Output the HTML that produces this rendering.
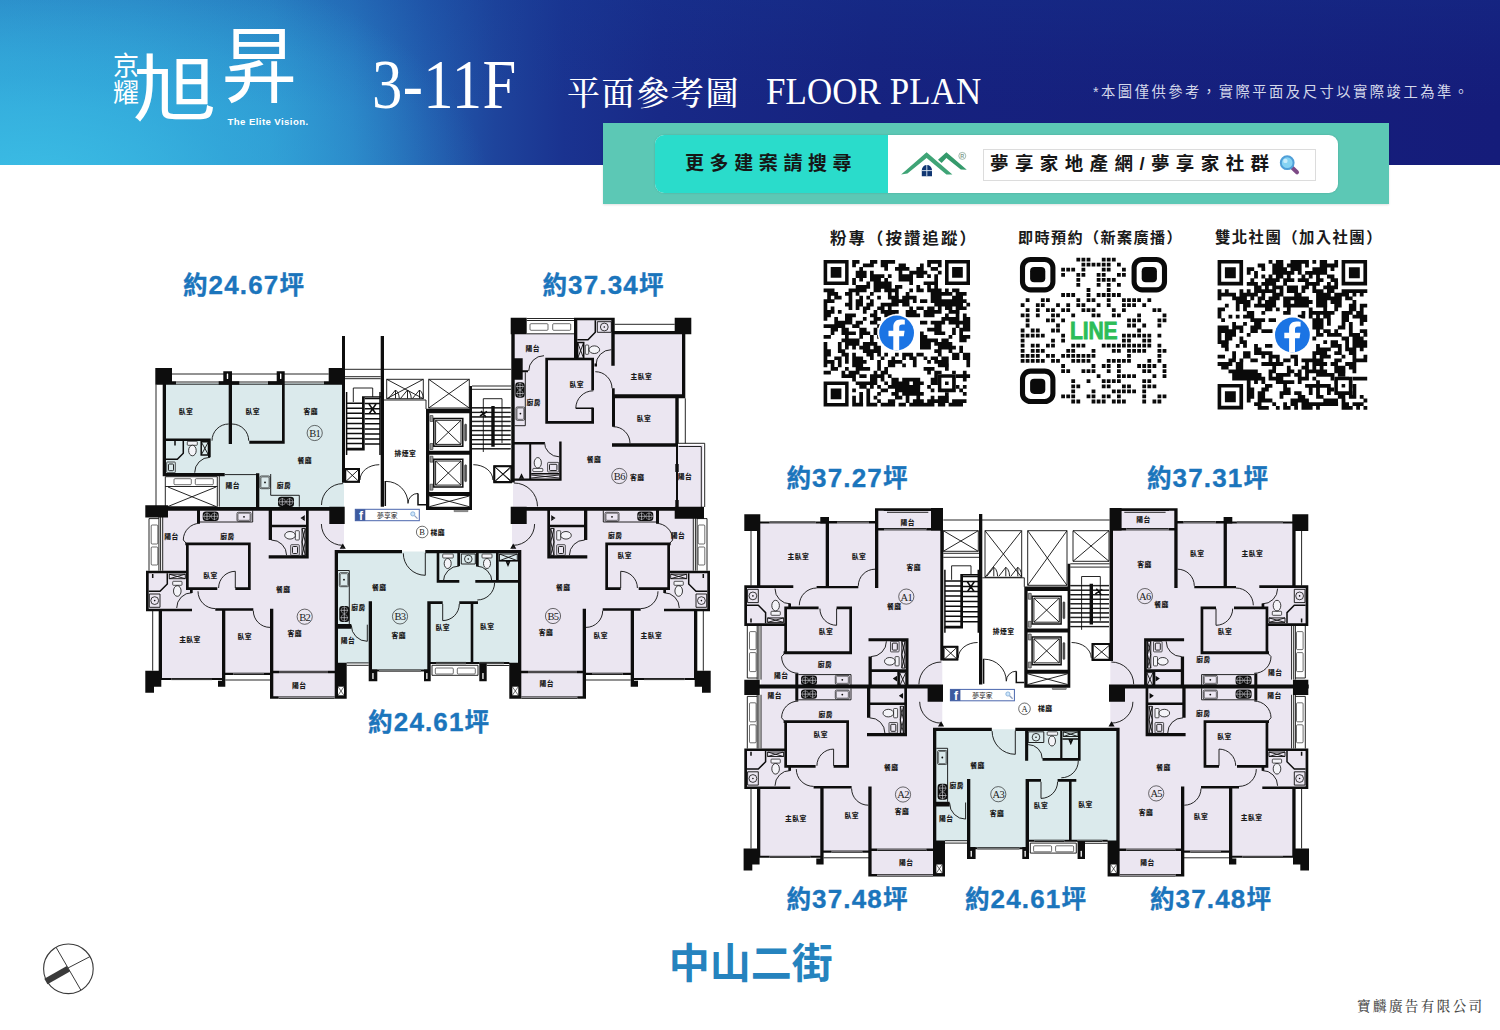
<!DOCTYPE html>
<html lang="zh-Hant"><head><meta charset="utf-8"><title>京耀旭昇 3-11F 平面參考圖</title>
<style>
html,body{margin:0;padding:0;background:#fff}
body{width:1500px;height:1030px;position:relative;overflow:hidden;font-family:"Liberation Sans","Noto Sans CJK TC",sans-serif}
.hdr{position:absolute;left:0;top:0;width:1500px;height:164.6px;background:
 radial-gradient(ellipse 460px 250px at 30px 190px,rgba(62,196,232,.85) 0%,rgba(54,180,224,.55) 45%,rgba(44,150,210,0) 100%),
 linear-gradient(180deg,rgba(22,60,150,.26) 0%,rgba(22,60,150,.09) 35%,rgba(22,60,150,0) 65%),
 linear-gradient(90deg,#30a0d6 0%,#2f9cd4 9%,#2c91ce 18%,#287bc2 23.5%,#225cae 28.5%,#1e449c 33%,#1a3390 37.5%,#182987 44%,#16227f 58%,#151c7a 100%)}
.abs{position:absolute;white-space:nowrap}
.serif{font-family:"Liberation Serif","Noto Serif CJK TC",serif}
.w{color:#fff}
.area b{font-size:26px}
.area{-webkit-text-stroke:.35px #1b75bc;position:absolute;white-space:nowrap;font-weight:700;font-size:24.5px;color:#1b75bc;letter-spacing:1.15px;transform:translateX(-50%);line-height:24px}
.qrl{position:absolute;white-space:nowrap;font-weight:700;font-size:15px;color:#1a1a1a;transform:translateX(-50%);line-height:18px}
svg{position:absolute;left:0;top:0}
svg text{font-family:"Liberation Sans","Noto Sans CJK TC",sans-serif}
.rl{font-size:6.8px;font-weight:900;fill:#1c1c1c;text-anchor:middle;letter-spacing:.45px}
.ul{font-size:10.5px;fill:#222;text-anchor:middle;font-family:"Liberation Serif",serif;letter-spacing:-.6px}
.cl{font-size:8.5px;fill:#222;text-anchor:middle;font-family:"Liberation Serif",serif}
.fbf{font-size:12px;font-weight:700;fill:#fff;text-anchor:middle}
.fbt{font-size:6.8px;fill:#222;text-anchor:middle}
.line{font-size:23.2px;font-weight:700;fill:#2cbd58;stroke:#2cbd58;stroke-width:.8px;text-anchor:middle;letter-spacing:-.2px}
</style></head><body>
<div class="hdr"></div>
<!-- logo -->
<div class="abs w" style="left:113px;top:52.5px;font-size:26px;line-height:27.6px;width:27px;white-space:normal;font-weight:400;font-family:'Liberation Sans','Noto Sans CJK TC',sans-serif">京耀</div>
<div id="xu" class="abs w" style="left:133px;top:42.5px;font-size:76px;line-height:100px;font-weight:400;font-family:'Liberation Sans','Noto Sans CJK TC',sans-serif;transform:scale(1.1,.95);transform-origin:0 0">旭</div>
<div id="sheng" class="abs w" style="left:221.5px;top:12.5px;font-size:76px;line-height:100px;font-weight:400;font-family:'Liberation Sans','Noto Sans CJK TC',sans-serif;transform:scale(.98,1.09);transform-origin:0 0">昇</div>
<div class="abs w" style="left:227.5px;top:116px;font-size:9.6px;line-height:12px;font-weight:700;letter-spacing:.42px">The Elite Vision.</div>
<div class="abs w serif" style="left:372px;top:45.5px;font-size:70.5px;line-height:76px;letter-spacing:.5px;transform:scaleX(.86);transform-origin:0 0">3-11F</div>
<div class="abs w serif" style="left:567px;top:71.5px;font-size:33px;line-height:44px;letter-spacing:1.6px;font-weight:500">平面參考圖</div>
<div class="abs w serif" style="left:765.5px;top:69px;font-size:37.7px;line-height:44px;letter-spacing:.1px;transform:scaleX(.927);transform-origin:0 0">FLOOR PLAN</div>
<div class="abs" style="left:1093px;top:82px;font-size:14.3px;line-height:20px;letter-spacing:2.5px;color:#d3d7ea">*本圖僅供參考，實際平面及尺寸以實際竣工為準。</div>
<!-- banner -->
<div class="abs" style="left:603px;top:123px;width:785.6px;height:81.3px;background:#5cc8b5;box-shadow:0 1px 2px rgba(0,0,0,.12)"></div>
<div class="abs" style="left:655px;top:135px;width:683.4px;height:57.8px;border-radius:9px;background:#fff;overflow:hidden;box-shadow:0 0 2px rgba(0,0,0,.18)"><div style="width:233px;height:58px;background:#2adccb"></div></div>
<div class="abs" style="left:685px;top:152px;font-size:19px;line-height:24px;font-weight:700;letter-spacing:5.6px;color:#161616">更多建案請搜尋</div>
<div class="abs" style="left:983px;top:149px;width:331px;height:30px;border:1px solid #dcdcdc;background:#fff"></div>
<div class="abs" style="left:990px;top:152px;font-size:18.5px;line-height:24px;font-weight:700;letter-spacing:6.4px;color:#161616">夢享家地產網/夢享家社群</div>
<!-- QR labels -->
<div class="qrl" style="left:904px;top:228.500px;font-size:16.4px;letter-spacing:2.1px">粉專（按讚追蹤）</div>
<div class="qrl" style="left:1100.5px;top:228.500px;font-size:15.1px;letter-spacing:1.4px">即時預約（新案廣播）</div>
<div class="qrl" style="left:1299px;top:228.500px;font-size:15.4px;letter-spacing:1.4px">雙北社團（加入社團）</div>
<!-- area labels -->
<div class="area" style="left:244px;top:273.4px">約<b>24.67</b>坪</div>
<div class="area" style="left:603.5px;top:273.4px">約<b>37.34</b>坪</div>
<div class="area" style="left:429.2px;top:709.5px">約<b>24.61</b>坪</div>
<div class="area" style="left:847.5px;top:465.5px">約<b>37.27</b>坪</div>
<div class="area" style="left:1208px;top:465.5px">約<b>37.31</b>坪</div>
<div class="area" style="left:847.5px;top:886.5px">約<b>37.48</b>坪</div>
<div class="area" style="left:1026px;top:886.5px">約<b>24.61</b>坪</div>
<div class="area" style="left:1211px;top:886.5px">約<b>37.48</b>坪</div>
<div class="abs" style="left:750.7px;top:940.2px;transform:translateX(-50%);font-size:41px;line-height:48px;font-weight:700;color:#2583be;letter-spacing:0">中山二街</div>
<div class="abs serif" style="left:1357px;top:997.6px;font-size:13.6px;line-height:18px;color:#4a4a4a;letter-spacing:2.35px;font-weight:500">寶麟廣告有限公司</div>
<svg width="1500" height="1030" viewBox="0 0 1500 1030">
<!-- banner logo + magnifier -->
<path d="M901.100 174.500L926.600 152.300L952.400 174.500L946.400 174.500L926.600 158L907.400 173.600Z" fill="#3fa476"/>
<path d="M938 159.800L946.400 152.300L966.800 169.700L960.800 169.400L946.400 158L941.600 163.100Z" fill="#359a6c"/>
<path d="M921.800 176.300V170a5.100 5.100 0 0 1 10.200 0V176.300Z" fill="#103672"/>
<path d="M926.800 165v11.300M921.800 170.600h10.200" stroke="#dfeaf5" stroke-width=".9" fill="none"/>
<circle cx="962.300" cy="155.900" r="3.500" stroke="#7d9c8d" stroke-width=".7" fill="none"/>
<text x="962.300" y="157.900" style="font-size:5.400px;font-weight:700;fill:#7d9c8d;text-anchor:middle">R</text>
<path d="M1292.300 167.800l4.700 4.500" stroke="#7d4a86" stroke-width="4" stroke-linecap="round"/>
<circle cx="1287.200" cy="162.700" r="6.400" fill="#86d3f3" stroke="#4f9fd8" stroke-width="2"/>
<circle cx="1285.400" cy="160.900" r="2.200" fill="#c9ecfb"/>
<!-- compass -->
<g stroke="#3a3a3a" fill="none">
<circle cx="68.400" cy="968.800" r="24.800" stroke-width="1.100"/>
<path d="M56 947.200L80.800 990M45.600 979.600L89.600 956.800" stroke-width="1"/>
<path d="M45.900 981.500L68.400 968.800" stroke-width="6.400"/>
</g>
<path d="M852.2 260h7.3v3.7h-7.3zM870 260h7.3v3.7h-7.3zM880.7 260h14.4v3.7h-14.4zM927.2 260h14.4v3.7h-14.4zM852.2 263.6h3.7v3.7h-3.7zM862.9 263.6h10.9v3.7h-10.9zM880.7 263.6h7.3v3.7h-7.3zM898.6 263.6h7.3v3.7h-7.3zM920 263.6h3.7v3.7h-3.7zM927.2 263.6h3.7v3.7h-3.7zM937.9 263.6h3.7v3.7h-3.7zM859.3 267.1h3.7v3.7h-3.7zM884.3 267.1h3.7v3.7h-3.7zM895 267.1h14.4v3.7h-14.4zM916.4 267.1h7.3v3.7h-7.3zM930.7 267.1h7.3v3.7h-7.3zM855.7 270.7h10.9v3.7h-10.9zM870 270.7h3.7v3.7h-3.7zM898.6 270.7h3.7v3.7h-3.7zM909.3 270.7h18v3.7h-18zM937.9 270.7h3.7v3.7h-3.7zM855.7 274.3h10.9v3.7h-10.9zM870 274.3h14.4v3.7h-14.4zM887.9 274.3h3.7v3.7h-3.7zM898.6 274.3h14.4v3.7h-14.4zM916.4 274.3h7.3v3.7h-7.3zM927.2 274.3h3.7v3.7h-3.7zM934.3 274.3h3.7v3.7h-3.7zM852.2 277.9h3.7v3.7h-3.7zM859.3 277.9h3.7v3.7h-3.7zM870 277.9h10.9v3.7h-10.9zM884.3 277.9h3.7v3.7h-3.7zM898.6 277.9h14.4v3.7h-14.4zM934.3 277.9h3.7v3.7h-3.7zM852.2 281.4h3.7v3.7h-3.7zM866.4 281.4h3.7v3.7h-3.7zM873.6 281.4h18v3.7h-18zM909.3 281.4h3.7v3.7h-3.7zM923.6 281.4h14.4v3.7h-14.4zM855.7 285h14.4v3.7h-14.4zM873.6 285h18v3.7h-18zM895 285h7.3v3.7h-7.3zM916.4 285h3.7v3.7h-3.7zM927.2 285h3.7v3.7h-3.7zM934.3 285h3.7v3.7h-3.7zM823.6 288.6h10.9v3.7h-10.9zM848.6 288.6h18v3.7h-18zM873.6 288.6h7.3v3.7h-7.3zM884.3 288.6h14.4v3.7h-14.4zM909.3 288.6h3.7v3.7h-3.7zM916.4 288.6h7.3v3.7h-7.3zM927.2 288.6h14.4v3.7h-14.4zM945 288.6h3.7v3.7h-3.7zM952.1 288.6h7.3v3.7h-7.3zM827.2 292.1h10.9v3.7h-10.9zM845 292.1h7.3v3.7h-7.3zM855.7 292.1h3.7v3.7h-3.7zM870 292.1h3.7v3.7h-3.7zM887.9 292.1h3.7v3.7h-3.7zM895 292.1h3.7v3.7h-3.7zM905.7 292.1h3.7v3.7h-3.7zM930.7 292.1h21.6v3.7h-21.6zM955.7 292.1h10.9v3.7h-10.9zM827.2 295.7h3.7v3.7h-3.7zM834.3 295.7h7.3v3.7h-7.3zM848.6 295.7h3.7v3.7h-3.7zM859.3 295.7h3.7v3.7h-3.7zM866.4 295.7h3.7v3.7h-3.7zM877.2 295.7h3.7v3.7h-3.7zM887.9 295.7h10.9v3.7h-10.9zM902.2 295.7h14.4v3.7h-14.4zM930.7 295.7h10.9v3.7h-10.9zM952.1 295.7h10.9v3.7h-10.9zM823.6 299.3h10.9v3.7h-10.9zM848.6 299.3h3.7v3.7h-3.7zM855.7 299.3h7.3v3.7h-7.3zM870 299.3h3.7v3.7h-3.7zM891.4 299.3h18v3.7h-18zM912.9 299.3h3.7v3.7h-3.7zM920 299.3h7.3v3.7h-7.3zM930.7 299.3h35.9v3.7h-35.9zM823.6 302.8h3.7v3.7h-3.7zM845 302.8h7.3v3.7h-7.3zM855.7 302.8h7.3v3.7h-7.3zM866.4 302.8h7.3v3.7h-7.3zM880.7 302.8h18v3.7h-18zM902.2 302.8h7.3v3.7h-7.3zM934.3 302.8h28.7v3.7h-28.7zM966.4 302.8h3.7v3.7h-3.7zM823.6 306.4h3.7v3.7h-3.7zM830.7 306.4h3.7v3.7h-3.7zM848.6 306.4h3.7v3.7h-3.7zM855.7 306.4h3.7v3.7h-3.7zM862.9 306.4h7.3v3.7h-7.3zM877.2 306.4h7.3v3.7h-7.3zM887.9 306.4h3.7v3.7h-3.7zM909.3 306.4h3.7v3.7h-3.7zM916.4 306.4h7.3v3.7h-7.3zM927.2 306.4h7.3v3.7h-7.3zM937.9 306.4h3.7v3.7h-3.7zM945 306.4h7.3v3.7h-7.3zM955.7 306.4h10.9v3.7h-10.9zM823.6 310h10.9v3.7h-10.9zM837.9 310h3.7v3.7h-3.7zM862.9 310h3.7v3.7h-3.7zM873.6 310h3.7v3.7h-3.7zM880.7 310h18v3.7h-18zM905.7 310h10.9v3.7h-10.9zM923.6 310h18v3.7h-18zM948.6 310h10.9v3.7h-10.9zM823.6 313.6h7.3v3.7h-7.3zM845 313.6h10.9v3.7h-10.9zM870 313.6h7.3v3.7h-7.3zM884.3 313.6h10.9v3.7h-10.9zM905.7 313.6h14.4v3.7h-14.4zM923.6 313.6h10.9v3.7h-10.9zM945 313.6h3.7v3.7h-3.7zM955.7 313.6h3.7v3.7h-3.7zM962.9 313.6h3.7v3.7h-3.7zM823.6 317.1h3.7v3.7h-3.7zM834.3 317.1h3.7v3.7h-3.7zM845 317.1h7.3v3.7h-7.3zM862.9 317.1h3.7v3.7h-3.7zM873.6 317.1h7.3v3.7h-7.3zM941.4 317.1h18v3.7h-18zM962.9 317.1h7.3v3.7h-7.3zM834.3 320.7h18v3.7h-18zM855.7 320.7h7.3v3.7h-7.3zM870 320.7h7.3v3.7h-7.3zM920 320.7h7.3v3.7h-7.3zM930.7 320.7h14.4v3.7h-14.4zM948.6 320.7h21.6v3.7h-21.6zM823.6 324.3h21.6v3.7h-21.6zM852.2 324.3h7.3v3.7h-7.3zM877.2 324.3h3.7v3.7h-3.7zM934.3 324.3h7.3v3.7h-7.3zM955.7 324.3h3.7v3.7h-3.7zM962.9 324.3h7.3v3.7h-7.3zM830.7 327.8h7.3v3.7h-7.3zM841.5 327.8h7.3v3.7h-7.3zM859.3 327.8h7.3v3.7h-7.3zM873.6 327.8h3.7v3.7h-3.7zM927.2 327.8h14.4v3.7h-14.4zM952.1 327.8h3.7v3.7h-3.7zM959.3 327.8h10.9v3.7h-10.9zM830.7 331.4h3.7v3.7h-3.7zM841.5 331.4h14.4v3.7h-14.4zM859.3 331.4h10.9v3.7h-10.9zM873.6 331.4h3.7v3.7h-3.7zM920 331.4h3.7v3.7h-3.7zM934.3 331.4h10.9v3.7h-10.9zM952.1 331.4h3.7v3.7h-3.7zM959.3 331.4h3.7v3.7h-3.7zM823.6 335h7.3v3.7h-7.3zM845 335h3.7v3.7h-3.7zM859.3 335h3.7v3.7h-3.7zM870 335h3.7v3.7h-3.7zM877.2 335h3.7v3.7h-3.7zM920 335h7.3v3.7h-7.3zM948.6 335h3.7v3.7h-3.7zM959.3 335h10.9v3.7h-10.9zM841.5 338.6h18v3.7h-18zM870 338.6h3.7v3.7h-3.7zM920 338.6h18v3.7h-18zM941.4 338.6h7.3v3.7h-7.3zM959.3 338.6h7.3v3.7h-7.3zM823.6 342.1h3.7v3.7h-3.7zM837.9 342.1h3.7v3.7h-3.7zM845 342.1h14.4v3.7h-14.4zM862.9 342.1h14.4v3.7h-14.4zM920 342.1h10.9v3.7h-10.9zM934.3 342.1h18v3.7h-18zM823.6 345.7h3.7v3.7h-3.7zM837.9 345.7h3.7v3.7h-3.7zM845 345.7h3.7v3.7h-3.7zM852.2 345.7h3.7v3.7h-3.7zM859.3 345.7h10.9v3.7h-10.9zM873.6 345.7h7.3v3.7h-7.3zM920 345.7h10.9v3.7h-10.9zM937.9 345.7h18v3.7h-18zM959.3 345.7h3.7v3.7h-3.7zM823.6 349.3h7.3v3.7h-7.3zM837.9 349.3h7.3v3.7h-7.3zM862.9 349.3h18v3.7h-18zM934.3 349.3h7.3v3.7h-7.3zM948.6 349.3h3.7v3.7h-3.7zM959.3 349.3h3.7v3.7h-3.7zM823.6 352.8h7.3v3.7h-7.3zM841.5 352.8h7.3v3.7h-7.3zM852.2 352.8h3.7v3.7h-3.7zM866.4 352.8h7.3v3.7h-7.3zM877.2 352.8h3.7v3.7h-3.7zM884.3 352.8h3.7v3.7h-3.7zM895 352.8h3.7v3.7h-3.7zM902.2 352.8h10.9v3.7h-10.9zM916.4 352.8h7.3v3.7h-7.3zM937.9 352.8h3.7v3.7h-3.7zM952.1 352.8h7.3v3.7h-7.3zM962.9 352.8h7.3v3.7h-7.3zM823.6 356.4h3.7v3.7h-3.7zM834.3 356.4h7.3v3.7h-7.3zM845 356.4h3.7v3.7h-3.7zM852.2 356.4h10.9v3.7h-10.9zM870 356.4h3.7v3.7h-3.7zM880.7 356.4h3.7v3.7h-3.7zM891.4 356.4h3.7v3.7h-3.7zM902.2 356.4h3.7v3.7h-3.7zM909.3 356.4h7.3v3.7h-7.3zM923.6 356.4h3.7v3.7h-3.7zM930.7 356.4h7.3v3.7h-7.3zM941.4 356.4h7.3v3.7h-7.3zM952.1 356.4h7.3v3.7h-7.3zM962.9 356.4h7.3v3.7h-7.3zM823.6 360h10.9v3.7h-10.9zM837.9 360h3.7v3.7h-3.7zM845 360h3.7v3.7h-3.7zM852.2 360h14.4v3.7h-14.4zM877.2 360h3.7v3.7h-3.7zM887.9 360h14.4v3.7h-14.4zM912.9 360h3.7v3.7h-3.7zM927.2 360h3.7v3.7h-3.7zM934.3 360h14.4v3.7h-14.4zM966.4 360h3.7v3.7h-3.7zM823.6 363.6h3.7v3.7h-3.7zM830.7 363.6h3.7v3.7h-3.7zM837.9 363.6h3.7v3.7h-3.7zM852.2 363.6h10.9v3.7h-10.9zM877.2 363.6h3.7v3.7h-3.7zM887.9 363.6h7.3v3.7h-7.3zM902.2 363.6h3.7v3.7h-3.7zM912.9 363.6h3.7v3.7h-3.7zM937.9 363.6h10.9v3.7h-10.9zM966.4 363.6h3.7v3.7h-3.7zM830.7 367.1h7.3v3.7h-7.3zM845 367.1h3.7v3.7h-3.7zM855.7 367.1h14.4v3.7h-14.4zM877.2 367.1h3.7v3.7h-3.7zM884.3 367.1h3.7v3.7h-3.7zM923.6 367.1h10.9v3.7h-10.9zM945 367.1h3.7v3.7h-3.7zM823.6 370.7h7.3v3.7h-7.3zM841.5 370.7h3.7v3.7h-3.7zM848.6 370.7h10.9v3.7h-10.9zM873.6 370.7h3.7v3.7h-3.7zM880.7 370.7h7.3v3.7h-7.3zM927.2 370.7h3.7v3.7h-3.7zM934.3 370.7h7.3v3.7h-7.3zM952.1 370.7h3.7v3.7h-3.7zM962.9 370.7h3.7v3.7h-3.7zM841.5 374.3h14.4v3.7h-14.4zM859.3 374.3h7.3v3.7h-7.3zM870 374.3h14.4v3.7h-14.4zM887.9 374.3h3.7v3.7h-3.7zM934.3 374.3h3.7v3.7h-3.7zM955.7 374.3h14.4v3.7h-14.4zM852.2 377.8h3.7v3.7h-3.7zM870 377.8h7.3v3.7h-7.3zM880.7 377.8h3.7v3.7h-3.7zM891.4 377.8h7.3v3.7h-7.3zM902.2 377.8h18v3.7h-18zM930.7 377.8h7.3v3.7h-7.3zM941.4 377.8h3.7v3.7h-3.7zM962.9 377.8h3.7v3.7h-3.7zM855.7 381.4h21.6v3.7h-21.6zM884.3 381.4h3.7v3.7h-3.7zM891.4 381.4h18v3.7h-18zM912.9 381.4h10.9v3.7h-10.9zM930.7 381.4h7.3v3.7h-7.3zM859.3 385h7.3v3.7h-7.3zM870 385h3.7v3.7h-3.7zM877.2 385h3.7v3.7h-3.7zM887.9 385h32.3v3.7h-32.3zM927.2 385h3.7v3.7h-3.7zM941.4 385h10.9v3.7h-10.9zM955.7 385h3.7v3.7h-3.7zM962.9 385h3.7v3.7h-3.7zM852.2 388.5h3.7v3.7h-3.7zM866.4 388.5h3.7v3.7h-3.7zM880.7 388.5h7.3v3.7h-7.3zM895 388.5h25.1v3.7h-25.1zM930.7 388.5h3.7v3.7h-3.7zM959.3 388.5h3.7v3.7h-3.7zM859.3 392.1h3.7v3.7h-3.7zM866.4 392.1h3.7v3.7h-3.7zM877.2 392.1h3.7v3.7h-3.7zM891.4 392.1h7.3v3.7h-7.3zM902.2 392.1h21.6v3.7h-21.6zM945 392.1h3.7v3.7h-3.7zM962.9 392.1h3.7v3.7h-3.7zM852.2 395.7h3.7v3.7h-3.7zM859.3 395.7h3.7v3.7h-3.7zM866.4 395.7h3.7v3.7h-3.7zM873.6 395.7h3.7v3.7h-3.7zM895 395.7h7.3v3.7h-7.3zM905.7 395.7h3.7v3.7h-3.7zM916.4 395.7h3.7v3.7h-3.7zM930.7 395.7h3.7v3.7h-3.7zM937.9 395.7h10.9v3.7h-10.9zM852.2 399.3h3.7v3.7h-3.7zM859.3 399.3h3.7v3.7h-3.7zM866.4 399.3h3.7v3.7h-3.7zM877.2 399.3h3.7v3.7h-3.7zM887.9 399.3h7.3v3.7h-7.3zM905.7 399.3h3.7v3.7h-3.7zM912.9 399.3h10.9v3.7h-10.9zM927.2 399.3h21.6v3.7h-21.6zM952.1 399.3h14.4v3.7h-14.4zM852.2 402.8h10.9v3.7h-10.9zM866.4 402.8h10.9v3.7h-10.9zM880.7 402.8h14.4v3.7h-14.4zM898.6 402.8h7.3v3.7h-7.3zM909.3 402.8h25.1v3.7h-25.1zM937.9 402.8h7.3v3.7h-7.3zM948.6 402.8h14.4v3.7h-14.4zM823.6 260h25v25h-25zM827.2 263.6v17.9h17.9v-17.9zM830.7 267.1h10.7v10.7h-10.7zM945 260h25v25h-25zM948.6 263.6v17.9h17.9v-17.9zM952.1 267.1h10.7v10.7h-10.7zM823.6 381.4h25v25h-25zM827.2 385v17.9h17.9v-17.9zM830.7 388.5h10.7v10.7h-10.7z" fill="#0a0a0a"/>
<rect x="937.9" y="374.3" width="17.9" height="17.9" fill="#fff"/>
<path d="M937.9 374.3h17.9v17.9h-17.9zM941.4 377.8v10.7h10.7v-10.7zM945 381.4h3.6v3.6h-3.6z" fill="#0a0a0a"/>
<circle cx="896.6" cy="333" r="18.9" fill="#fff"/><circle cx="896.6" cy="333" r="17.4" fill="#1b74e4"/><path transform="translate(896.6 333) scale(1)" d="M2.6 17.5V3.2h4.6l.8-5.4H2.6v-3.4c0-1.6.8-2.9 3-2.9h2.6v-4.7c-1-.2-2.6-.4-4.2-.4-4.5 0-7.3 2.7-7.3 7.5v3.9h-4.8v5.4h4.8v14.3z" fill="#fff"/>
<path d="M1076.4 257.7h3.8v3.8h-3.8zM1081.5 257.7h3.8v3.8h-3.8zM1086.6 257.7h3.8v3.8h-3.8zM1101.8 257.7h3.8v3.8h-3.8zM1106.8 257.7h3.8v3.8h-3.8zM1111.9 257.7h3.8v3.8h-3.8zM1081.5 262.7h3.8v3.8h-3.8zM1086.6 262.7h3.8v3.8h-3.8zM1091.6 262.7h3.8v3.8h-3.8zM1096.7 262.7h3.8v3.8h-3.8zM1101.8 262.7h3.8v3.8h-3.8zM1106.8 262.7h3.8v3.8h-3.8zM1117 262.7h3.8v3.8h-3.8zM1061.2 267.8h3.8v3.8h-3.8zM1066.3 267.8h3.8v3.8h-3.8zM1071.3 267.8h3.8v3.8h-3.8zM1081.5 267.8h3.8v3.8h-3.8zM1101.8 267.8h3.8v3.8h-3.8zM1106.8 267.8h3.8v3.8h-3.8zM1122 267.8h3.8v3.8h-3.8zM1061.2 272.9h3.8v3.8h-3.8zM1076.4 272.9h3.8v3.8h-3.8zM1081.5 272.9h3.8v3.8h-3.8zM1096.7 272.9h3.8v3.8h-3.8zM1101.8 272.9h3.8v3.8h-3.8zM1117 272.9h3.8v3.8h-3.8zM1122 272.9h3.8v3.8h-3.8zM1076.4 277.9h3.8v3.8h-3.8zM1096.7 277.9h3.8v3.8h-3.8zM1101.8 277.9h3.8v3.8h-3.8zM1106.8 277.9h3.8v3.8h-3.8zM1111.9 277.9h3.8v3.8h-3.8zM1076.4 283h3.8v3.8h-3.8zM1096.7 283h3.8v3.8h-3.8zM1106.8 283h3.8v3.8h-3.8zM1117 283h3.8v3.8h-3.8zM1086.6 288.1h3.8v3.8h-3.8zM1106.8 288.1h3.8v3.8h-3.8zM1061.2 293.1h3.8v3.8h-3.8zM1066.3 293.1h3.8v3.8h-3.8zM1071.3 293.1h3.8v3.8h-3.8zM1086.6 293.1h3.8v3.8h-3.8zM1096.7 293.1h3.8v3.8h-3.8zM1101.8 293.1h3.8v3.8h-3.8zM1106.8 293.1h3.8v3.8h-3.8zM1111.9 293.1h3.8v3.8h-3.8zM1117 293.1h3.8v3.8h-3.8zM1025.7 298.2h3.8v3.8h-3.8zM1040.9 298.2h3.8v3.8h-3.8zM1046 298.2h3.8v3.8h-3.8zM1076.4 298.2h3.8v3.8h-3.8zM1086.6 298.2h3.8v3.8h-3.8zM1091.6 298.2h3.8v3.8h-3.8zM1106.8 298.2h3.8v3.8h-3.8zM1122 298.2h3.8v3.8h-3.8zM1127.1 298.2h3.8v3.8h-3.8zM1132.2 298.2h3.8v3.8h-3.8zM1137.2 298.2h3.8v3.8h-3.8zM1147.4 298.2h3.8v3.8h-3.8zM1020.7 303.3h3.8v3.8h-3.8zM1035.9 303.3h3.8v3.8h-3.8zM1040.9 303.3h3.8v3.8h-3.8zM1056.1 303.3h3.8v3.8h-3.8zM1066.3 303.3h3.8v3.8h-3.8zM1076.4 303.3h3.8v3.8h-3.8zM1081.5 303.3h3.8v3.8h-3.8zM1096.7 303.3h3.8v3.8h-3.8zM1106.8 303.3h3.8v3.8h-3.8zM1122 303.3h3.8v3.8h-3.8zM1127.1 303.3h3.8v3.8h-3.8zM1132.2 303.3h3.8v3.8h-3.8zM1142.3 303.3h3.8v3.8h-3.8zM1025.7 308.3h3.8v3.8h-3.8zM1035.9 308.3h3.8v3.8h-3.8zM1046 308.3h3.8v3.8h-3.8zM1051.1 308.3h3.8v3.8h-3.8zM1061.2 308.3h3.8v3.8h-3.8zM1066.3 308.3h3.8v3.8h-3.8zM1081.5 308.3h3.8v3.8h-3.8zM1086.6 308.3h3.8v3.8h-3.8zM1091.6 308.3h3.8v3.8h-3.8zM1111.9 308.3h3.8v3.8h-3.8zM1122 308.3h3.8v3.8h-3.8zM1152.5 308.3h3.8v3.8h-3.8zM1157.5 308.3h3.8v3.8h-3.8zM1020.7 313.4h3.8v3.8h-3.8zM1025.7 313.4h3.8v3.8h-3.8zM1035.9 313.4h3.8v3.8h-3.8zM1051.1 313.4h3.8v3.8h-3.8zM1056.1 313.4h3.8v3.8h-3.8zM1071.3 313.4h3.8v3.8h-3.8zM1091.6 313.4h3.8v3.8h-3.8zM1096.7 313.4h3.8v3.8h-3.8zM1111.9 313.4h3.8v3.8h-3.8zM1117 313.4h3.8v3.8h-3.8zM1137.2 313.4h3.8v3.8h-3.8zM1162.6 313.4h3.8v3.8h-3.8zM1025.7 318.5h3.8v3.8h-3.8zM1046 318.5h3.8v3.8h-3.8zM1051.1 318.5h3.8v3.8h-3.8zM1061.2 318.5h3.8v3.8h-3.8zM1127.1 318.5h3.8v3.8h-3.8zM1132.2 318.5h3.8v3.8h-3.8zM1137.2 318.5h3.8v3.8h-3.8zM1157.5 318.5h3.8v3.8h-3.8zM1162.6 318.5h3.8v3.8h-3.8zM1025.7 323.6h3.8v3.8h-3.8zM1056.1 323.6h3.8v3.8h-3.8zM1127.1 323.6h3.8v3.8h-3.8zM1132.2 323.6h3.8v3.8h-3.8zM1142.3 323.6h3.8v3.8h-3.8zM1157.5 323.6h3.8v3.8h-3.8zM1020.7 328.6h3.8v3.8h-3.8zM1030.8 328.6h3.8v3.8h-3.8zM1035.9 328.6h3.8v3.8h-3.8zM1051.1 328.6h3.8v3.8h-3.8zM1056.1 328.6h3.8v3.8h-3.8zM1137.2 328.6h3.8v3.8h-3.8zM1020.7 333.7h3.8v3.8h-3.8zM1025.7 333.7h3.8v3.8h-3.8zM1030.8 333.7h3.8v3.8h-3.8zM1035.9 333.7h3.8v3.8h-3.8zM1040.9 333.7h3.8v3.8h-3.8zM1061.2 333.7h3.8v3.8h-3.8zM1122 333.7h3.8v3.8h-3.8zM1127.1 333.7h3.8v3.8h-3.8zM1132.2 333.7h3.8v3.8h-3.8zM1137.2 333.7h3.8v3.8h-3.8zM1142.3 333.7h3.8v3.8h-3.8zM1147.4 333.7h3.8v3.8h-3.8zM1157.5 333.7h3.8v3.8h-3.8zM1020.7 338.8h3.8v3.8h-3.8zM1051.1 338.8h3.8v3.8h-3.8zM1061.2 338.8h3.8v3.8h-3.8zM1122 338.8h3.8v3.8h-3.8zM1127.1 338.8h3.8v3.8h-3.8zM1142.3 338.8h3.8v3.8h-3.8zM1147.4 338.8h3.8v3.8h-3.8zM1020.7 343.8h3.8v3.8h-3.8zM1030.8 343.8h3.8v3.8h-3.8zM1035.9 343.8h3.8v3.8h-3.8zM1046 343.8h3.8v3.8h-3.8zM1051.1 343.8h3.8v3.8h-3.8zM1071.3 343.8h3.8v3.8h-3.8zM1076.4 343.8h3.8v3.8h-3.8zM1081.5 343.8h3.8v3.8h-3.8zM1101.8 343.8h3.8v3.8h-3.8zM1106.8 343.8h3.8v3.8h-3.8zM1111.9 343.8h3.8v3.8h-3.8zM1117 343.8h3.8v3.8h-3.8zM1122 343.8h3.8v3.8h-3.8zM1127.1 343.8h3.8v3.8h-3.8zM1132.2 343.8h3.8v3.8h-3.8zM1137.2 343.8h3.8v3.8h-3.8zM1142.3 343.8h3.8v3.8h-3.8zM1147.4 343.8h3.8v3.8h-3.8zM1157.5 343.8h3.8v3.8h-3.8zM1020.7 348.9h3.8v3.8h-3.8zM1030.8 348.9h3.8v3.8h-3.8zM1035.9 348.9h3.8v3.8h-3.8zM1040.9 348.9h3.8v3.8h-3.8zM1066.3 348.9h3.8v3.8h-3.8zM1071.3 348.9h3.8v3.8h-3.8zM1091.6 348.9h3.8v3.8h-3.8zM1111.9 348.9h3.8v3.8h-3.8zM1117 348.9h3.8v3.8h-3.8zM1127.1 348.9h3.8v3.8h-3.8zM1132.2 348.9h3.8v3.8h-3.8zM1137.2 348.9h3.8v3.8h-3.8zM1142.3 348.9h3.8v3.8h-3.8zM1157.5 348.9h3.8v3.8h-3.8zM1162.6 348.9h3.8v3.8h-3.8zM1020.7 354h3.8v3.8h-3.8zM1025.7 354h3.8v3.8h-3.8zM1030.8 354h3.8v3.8h-3.8zM1035.9 354h3.8v3.8h-3.8zM1046 354h3.8v3.8h-3.8zM1051.1 354h3.8v3.8h-3.8zM1061.2 354h3.8v3.8h-3.8zM1066.3 354h3.8v3.8h-3.8zM1071.3 354h3.8v3.8h-3.8zM1076.4 354h3.8v3.8h-3.8zM1081.5 354h3.8v3.8h-3.8zM1086.6 354h3.8v3.8h-3.8zM1091.6 354h3.8v3.8h-3.8zM1127.1 354h3.8v3.8h-3.8zM1157.5 354h3.8v3.8h-3.8zM1020.7 359h3.8v3.8h-3.8zM1025.7 359h3.8v3.8h-3.8zM1030.8 359h3.8v3.8h-3.8zM1035.9 359h3.8v3.8h-3.8zM1040.9 359h3.8v3.8h-3.8zM1051.1 359h3.8v3.8h-3.8zM1056.1 359h3.8v3.8h-3.8zM1071.3 359h3.8v3.8h-3.8zM1076.4 359h3.8v3.8h-3.8zM1081.5 359h3.8v3.8h-3.8zM1086.6 359h3.8v3.8h-3.8zM1106.8 359h3.8v3.8h-3.8zM1111.9 359h3.8v3.8h-3.8zM1117 359h3.8v3.8h-3.8zM1122 359h3.8v3.8h-3.8zM1127.1 359h3.8v3.8h-3.8zM1147.4 359h3.8v3.8h-3.8zM1157.5 359h3.8v3.8h-3.8zM1061.2 364.1h3.8v3.8h-3.8zM1091.6 364.1h3.8v3.8h-3.8zM1101.8 364.1h3.8v3.8h-3.8zM1106.8 364.1h3.8v3.8h-3.8zM1117 364.1h3.8v3.8h-3.8zM1137.2 364.1h3.8v3.8h-3.8zM1142.3 364.1h3.8v3.8h-3.8zM1147.4 364.1h3.8v3.8h-3.8zM1152.5 364.1h3.8v3.8h-3.8zM1162.6 364.1h3.8v3.8h-3.8zM1061.2 369.2h3.8v3.8h-3.8zM1066.3 369.2h3.8v3.8h-3.8zM1081.5 369.2h3.8v3.8h-3.8zM1086.6 369.2h3.8v3.8h-3.8zM1091.6 369.2h3.8v3.8h-3.8zM1106.8 369.2h3.8v3.8h-3.8zM1117 369.2h3.8v3.8h-3.8zM1142.3 369.2h3.8v3.8h-3.8zM1147.4 369.2h3.8v3.8h-3.8zM1162.6 369.2h3.8v3.8h-3.8zM1096.7 374.2h3.8v3.8h-3.8zM1117 374.2h3.8v3.8h-3.8zM1122 374.2h3.8v3.8h-3.8zM1127.1 374.2h3.8v3.8h-3.8zM1132.2 374.2h3.8v3.8h-3.8zM1152.5 374.2h3.8v3.8h-3.8zM1162.6 374.2h3.8v3.8h-3.8zM1071.3 379.3h3.8v3.8h-3.8zM1086.6 379.3h3.8v3.8h-3.8zM1101.8 379.3h3.8v3.8h-3.8zM1106.8 379.3h3.8v3.8h-3.8zM1111.9 379.3h3.8v3.8h-3.8zM1117 379.3h3.8v3.8h-3.8zM1142.3 379.3h3.8v3.8h-3.8zM1147.4 379.3h3.8v3.8h-3.8zM1071.3 384.4h3.8v3.8h-3.8zM1076.4 384.4h3.8v3.8h-3.8zM1101.8 384.4h3.8v3.8h-3.8zM1106.8 384.4h3.8v3.8h-3.8zM1122 384.4h3.8v3.8h-3.8zM1127.1 384.4h3.8v3.8h-3.8zM1142.3 384.4h3.8v3.8h-3.8zM1147.4 384.4h3.8v3.8h-3.8zM1152.5 384.4h3.8v3.8h-3.8zM1071.3 389.5h3.8v3.8h-3.8zM1091.6 389.5h3.8v3.8h-3.8zM1111.9 389.5h3.8v3.8h-3.8zM1117 389.5h3.8v3.8h-3.8zM1122 389.5h3.8v3.8h-3.8zM1127.1 389.5h3.8v3.8h-3.8zM1132.2 389.5h3.8v3.8h-3.8zM1142.3 389.5h3.8v3.8h-3.8zM1061.2 394.5h3.8v3.8h-3.8zM1066.3 394.5h3.8v3.8h-3.8zM1071.3 394.5h3.8v3.8h-3.8zM1086.6 394.5h3.8v3.8h-3.8zM1091.6 394.5h3.8v3.8h-3.8zM1101.8 394.5h3.8v3.8h-3.8zM1106.8 394.5h3.8v3.8h-3.8zM1117 394.5h3.8v3.8h-3.8zM1142.3 394.5h3.8v3.8h-3.8zM1157.5 394.5h3.8v3.8h-3.8zM1162.6 394.5h3.8v3.8h-3.8zM1071.3 399.6h3.8v3.8h-3.8zM1076.4 399.6h3.8v3.8h-3.8zM1091.6 399.6h3.8v3.8h-3.8zM1096.7 399.6h3.8v3.8h-3.8zM1101.8 399.6h3.8v3.8h-3.8zM1111.9 399.6h3.8v3.8h-3.8zM1117 399.6h3.8v3.8h-3.8zM1122 399.6h3.8v3.8h-3.8zM1142.3 399.6h3.8v3.8h-3.8zM1152.5 399.6h3.8v3.8h-3.8zM1157.5 399.6h3.8v3.8h-3.8z" fill="#0a0a0a"/>
<rect x="1022.5" y="259.5" width="30.4" height="30.4" rx="8.1" fill="none" stroke="#0a0a0a" stroke-width="5.1"/>
<rect x="1030.1" y="267.1" width="15.2" height="15.2" rx="4.1" fill="#0a0a0a"/>
<rect x="1134.1" y="259.5" width="30.4" height="30.4" rx="8.1" fill="none" stroke="#0a0a0a" stroke-width="5.1"/>
<rect x="1141.7" y="267.1" width="15.2" height="15.2" rx="4.1" fill="#0a0a0a"/>
<rect x="1022.5" y="371.1" width="30.4" height="30.4" rx="8.1" fill="none" stroke="#0a0a0a" stroke-width="5.1"/>
<rect x="1030.1" y="378.7" width="15.2" height="15.2" rx="4.1" fill="#0a0a0a"/>
<text transform="translate(1093.8 339.2) scale(.91 1)" x="0" y="0" class="line">LINE</text>
<path d="M1268.6 260h3.8v3.8h-3.8zM1275.9 260h7.4v3.8h-7.4zM1290.5 260h18.4v3.8h-18.4zM1312.4 260h3.8v3.8h-3.8zM1319.7 260h7.4v3.8h-7.4zM1334.3 260h3.8v3.8h-3.8zM1257.7 263.6h7.4v3.8h-7.4zM1272.3 263.6h11.1v3.8h-11.1zM1286.9 263.6h14.7v3.8h-14.7zM1305.1 263.6h3.8v3.8h-3.8zM1319.7 263.6h18.4v3.8h-18.4zM1246.8 267.3h7.4v3.8h-7.4zM1261.4 267.3h3.8v3.8h-3.8zM1272.3 267.3h14.7v3.8h-14.7zM1290.5 267.3h11.1v3.8h-11.1zM1312.4 267.3h14.7v3.8h-14.7zM1330.6 267.3h3.8v3.8h-3.8zM1246.8 270.9h3.8v3.8h-3.8zM1254.1 270.9h3.8v3.8h-3.8zM1272.3 270.9h22v3.8h-22zM1297.8 270.9h3.8v3.8h-3.8zM1305.1 270.9h22v3.8h-22zM1254.1 274.6h3.8v3.8h-3.8zM1261.4 274.6h3.8v3.8h-3.8zM1268.6 274.6h3.8v3.8h-3.8zM1275.9 274.6h7.4v3.8h-7.4zM1286.9 274.6h3.8v3.8h-3.8zM1301.5 274.6h3.8v3.8h-3.8zM1308.8 274.6h3.8v3.8h-3.8zM1316.1 274.6h3.8v3.8h-3.8zM1327 274.6h7.4v3.8h-7.4zM1250.4 278.2h3.8v3.8h-3.8zM1265 278.2h14.7v3.8h-14.7zM1283.2 278.2h11.1v3.8h-11.1zM1297.8 278.2h11.1v3.8h-11.1zM1316.1 278.2h7.4v3.8h-7.4zM1330.6 278.2h7.4v3.8h-7.4zM1246.8 281.9h11.1v3.8h-11.1zM1261.4 281.9h14.7v3.8h-14.7zM1283.2 281.9h3.8v3.8h-3.8zM1305.1 281.9h14.7v3.8h-14.7zM1327 281.9h3.8v3.8h-3.8zM1334.3 281.9h3.8v3.8h-3.8zM1254.1 285.5h7.4v3.8h-7.4zM1265 285.5h3.8v3.8h-3.8zM1272.3 285.5h11.1v3.8h-11.1zM1286.9 285.5h11.1v3.8h-11.1zM1301.5 285.5h7.4v3.8h-7.4zM1312.4 285.5h3.8v3.8h-3.8zM1323.3 285.5h14.7v3.8h-14.7zM1217.6 289.2h3.8v3.8h-3.8zM1224.9 289.2h3.8v3.8h-3.8zM1239.5 289.2h3.8v3.8h-3.8zM1246.8 289.2h3.8v3.8h-3.8zM1254.1 289.2h22v3.8h-22zM1279.6 289.2h3.8v3.8h-3.8zM1286.9 289.2h11.1v3.8h-11.1zM1301.5 289.2h3.8v3.8h-3.8zM1312.4 289.2h11.1v3.8h-11.1zM1327 289.2h7.4v3.8h-7.4zM1341.6 289.2h25.7v3.8h-25.7zM1217.6 292.8h18.4v3.8h-18.4zM1239.5 292.8h18.4v3.8h-18.4zM1261.4 292.8h3.8v3.8h-3.8zM1272.3 292.8h11.1v3.8h-11.1zM1294.2 292.8h7.4v3.8h-7.4zM1316.1 292.8h14.7v3.8h-14.7zM1334.3 292.8h14.7v3.8h-14.7zM1352.5 292.8h3.8v3.8h-3.8zM1359.8 292.8h3.8v3.8h-3.8zM1217.6 296.5h3.8v3.8h-3.8zM1232.2 296.5h14.7v3.8h-14.7zM1250.4 296.5h3.8v3.8h-3.8zM1257.7 296.5h7.4v3.8h-7.4zM1268.6 296.5h11.1v3.8h-11.1zM1283.2 296.5h25.7v3.8h-25.7zM1316.1 296.5h25.7v3.8h-25.7zM1345.2 296.5h7.4v3.8h-7.4zM1235.8 300.1h14.7v3.8h-14.7zM1257.7 300.1h3.8v3.8h-3.8zM1265 300.1h11.1v3.8h-11.1zM1283.2 300.1h7.4v3.8h-7.4zM1294.2 300.1h18.4v3.8h-18.4zM1316.1 300.1h11.1v3.8h-11.1zM1330.6 300.1h11.1v3.8h-11.1zM1352.5 300.1h3.8v3.8h-3.8zM1224.9 303.8h3.8v3.8h-3.8zM1235.8 303.8h3.8v3.8h-3.8zM1243.1 303.8h7.4v3.8h-7.4zM1254.1 303.8h22v3.8h-22zM1283.2 303.8h25.7v3.8h-25.7zM1316.1 303.8h11.1v3.8h-11.1zM1334.3 303.8h7.4v3.8h-7.4zM1348.9 303.8h7.4v3.8h-7.4zM1359.8 303.8h7.4v3.8h-7.4zM1217.6 307.4h7.4v3.8h-7.4zM1235.8 307.4h3.8v3.8h-3.8zM1243.1 307.4h3.8v3.8h-3.8zM1265 307.4h7.4v3.8h-7.4zM1275.9 307.4h3.8v3.8h-3.8zM1286.9 307.4h3.8v3.8h-3.8zM1308.8 307.4h3.8v3.8h-3.8zM1323.3 307.4h3.8v3.8h-3.8zM1334.3 307.4h3.8v3.8h-3.8zM1348.9 307.4h7.4v3.8h-7.4zM1359.8 307.4h3.8v3.8h-3.8zM1217.6 311h3.8v3.8h-3.8zM1246.8 311h7.4v3.8h-7.4zM1261.4 311h3.8v3.8h-3.8zM1283.2 311h7.4v3.8h-7.4zM1301.5 311h3.8v3.8h-3.8zM1308.8 311h25.7v3.8h-25.7zM1341.6 311h11.1v3.8h-11.1zM1356.2 311h7.4v3.8h-7.4zM1217.6 314.7h3.8v3.8h-3.8zM1228.5 314.7h3.8v3.8h-3.8zM1235.8 314.7h3.8v3.8h-3.8zM1243.1 314.7h11.1v3.8h-11.1zM1297.8 314.7h7.4v3.8h-7.4zM1308.8 314.7h3.8v3.8h-3.8zM1316.1 314.7h3.8v3.8h-3.8zM1323.3 314.7h7.4v3.8h-7.4zM1341.6 314.7h7.4v3.8h-7.4zM1352.5 314.7h14.7v3.8h-14.7zM1221.2 318.3h3.8v3.8h-3.8zM1250.4 318.3h14.7v3.8h-14.7zM1268.6 318.3h7.4v3.8h-7.4zM1312.4 318.3h11.1v3.8h-11.1zM1327 318.3h3.8v3.8h-3.8zM1341.6 318.3h7.4v3.8h-7.4zM1359.8 318.3h7.4v3.8h-7.4zM1232.2 322h3.8v3.8h-3.8zM1243.1 322h3.8v3.8h-3.8zM1254.1 322h7.4v3.8h-7.4zM1312.4 322h11.1v3.8h-11.1zM1327 322h3.8v3.8h-3.8zM1341.6 322h3.8v3.8h-3.8zM1348.9 322h3.8v3.8h-3.8zM1359.8 322h3.8v3.8h-3.8zM1217.6 325.6h11.1v3.8h-11.1zM1232.2 325.6h11.1v3.8h-11.1zM1250.4 325.6h11.1v3.8h-11.1zM1312.4 325.6h11.1v3.8h-11.1zM1337.9 325.6h7.4v3.8h-7.4zM1348.9 325.6h3.8v3.8h-3.8zM1217.6 329.3h18.4v3.8h-18.4zM1239.5 329.3h3.8v3.8h-3.8zM1250.4 329.3h7.4v3.8h-7.4zM1261.4 329.3h11.1v3.8h-11.1zM1316.1 329.3h3.8v3.8h-3.8zM1323.3 329.3h7.4v3.8h-7.4zM1334.3 329.3h3.8v3.8h-3.8zM1348.9 329.3h3.8v3.8h-3.8zM1359.8 329.3h7.4v3.8h-7.4zM1217.6 332.9h3.8v3.8h-3.8zM1224.9 332.9h11.1v3.8h-11.1zM1246.8 332.9h3.8v3.8h-3.8zM1316.1 332.9h7.4v3.8h-7.4zM1327 332.9h14.7v3.8h-14.7zM1348.9 332.9h11.1v3.8h-11.1zM1363.5 332.9h3.8v3.8h-3.8zM1217.6 336.6h3.8v3.8h-3.8zM1224.9 336.6h7.4v3.8h-7.4zM1239.5 336.6h3.8v3.8h-3.8zM1312.4 336.6h3.8v3.8h-3.8zM1341.6 336.6h7.4v3.8h-7.4zM1352.5 336.6h11.1v3.8h-11.1zM1217.6 340.2h11.1v3.8h-11.1zM1239.5 340.2h7.4v3.8h-7.4zM1323.3 340.2h3.8v3.8h-3.8zM1330.6 340.2h7.4v3.8h-7.4zM1345.2 340.2h3.8v3.8h-3.8zM1352.5 340.2h14.7v3.8h-14.7zM1221.2 343.9h7.4v3.8h-7.4zM1235.8 343.9h3.8v3.8h-3.8zM1243.1 343.9h3.8v3.8h-3.8zM1254.1 343.9h3.8v3.8h-3.8zM1265 343.9h7.4v3.8h-7.4zM1316.1 343.9h3.8v3.8h-3.8zM1330.6 343.9h11.1v3.8h-11.1zM1345.2 343.9h3.8v3.8h-3.8zM1352.5 343.9h14.7v3.8h-14.7zM1224.9 347.5h3.8v3.8h-3.8zM1254.1 347.5h7.4v3.8h-7.4zM1316.1 347.5h14.7v3.8h-14.7zM1337.9 347.5h3.8v3.8h-3.8zM1345.2 347.5h11.1v3.8h-11.1zM1359.8 347.5h3.8v3.8h-3.8zM1232.2 351.2h3.8v3.8h-3.8zM1243.1 351.2h7.4v3.8h-7.4zM1254.1 351.2h18.4v3.8h-18.4zM1312.4 351.2h14.7v3.8h-14.7zM1334.3 351.2h7.4v3.8h-7.4zM1348.9 351.2h7.4v3.8h-7.4zM1217.6 354.8h7.4v3.8h-7.4zM1232.2 354.8h3.8v3.8h-3.8zM1243.1 354.8h7.4v3.8h-7.4zM1261.4 354.8h3.8v3.8h-3.8zM1268.6 354.8h11.1v3.8h-11.1zM1290.5 354.8h7.4v3.8h-7.4zM1312.4 354.8h3.8v3.8h-3.8zM1319.7 354.8h11.1v3.8h-11.1zM1341.6 354.8h3.8v3.8h-3.8zM1352.5 354.8h3.8v3.8h-3.8zM1363.5 354.8h3.8v3.8h-3.8zM1228.5 358.5h7.4v3.8h-7.4zM1239.5 358.5h3.8v3.8h-3.8zM1250.4 358.5h7.4v3.8h-7.4zM1268.6 358.5h3.8v3.8h-3.8zM1275.9 358.5h3.8v3.8h-3.8zM1283.2 358.5h7.4v3.8h-7.4zM1294.2 358.5h3.8v3.8h-3.8zM1301.5 358.5h22v3.8h-22zM1334.3 358.5h7.4v3.8h-7.4zM1352.5 358.5h14.7v3.8h-14.7zM1217.6 362.1h14.7v3.8h-14.7zM1235.8 362.1h7.4v3.8h-7.4zM1261.4 362.1h22v3.8h-22zM1294.2 362.1h3.8v3.8h-3.8zM1305.1 362.1h3.8v3.8h-3.8zM1312.4 362.1h14.7v3.8h-14.7zM1330.6 362.1h7.4v3.8h-7.4zM1345.2 362.1h11.1v3.8h-11.1zM1221.2 365.7h7.4v3.8h-7.4zM1235.8 365.7h7.4v3.8h-7.4zM1272.3 365.7h3.8v3.8h-3.8zM1286.9 365.7h3.8v3.8h-3.8zM1301.5 365.7h7.4v3.8h-7.4zM1312.4 365.7h3.8v3.8h-3.8zM1319.7 365.7h3.8v3.8h-3.8zM1334.3 365.7h11.1v3.8h-11.1zM1348.9 365.7h7.4v3.8h-7.4zM1228.5 369.4h29.3v3.8h-29.3zM1268.6 369.4h7.4v3.8h-7.4zM1286.9 369.4h7.4v3.8h-7.4zM1297.8 369.4h3.8v3.8h-3.8zM1305.1 369.4h22v3.8h-22zM1334.3 369.4h11.1v3.8h-11.1zM1352.5 369.4h3.8v3.8h-3.8zM1232.2 373h29.3v3.8h-29.3zM1268.6 373h3.8v3.8h-3.8zM1275.9 373h14.7v3.8h-14.7zM1294.2 373h7.4v3.8h-7.4zM1305.1 373h3.8v3.8h-3.8zM1316.1 373h18.4v3.8h-18.4zM1337.9 373h7.4v3.8h-7.4zM1232.2 376.7h33v3.8h-33zM1268.6 376.7h14.7v3.8h-14.7zM1297.8 376.7h11.1v3.8h-11.1zM1312.4 376.7h3.8v3.8h-3.8zM1330.6 376.7h3.8v3.8h-3.8zM1337.9 376.7h11.1v3.8h-11.1zM1352.5 376.7h14.7v3.8h-14.7zM1246.8 380.3h3.8v3.8h-3.8zM1254.1 380.3h3.8v3.8h-3.8zM1261.4 380.3h3.8v3.8h-3.8zM1275.9 380.3h18.4v3.8h-18.4zM1297.8 380.3h3.8v3.8h-3.8zM1316.1 380.3h3.8v3.8h-3.8zM1334.3 380.3h3.8v3.8h-3.8zM1341.6 380.3h3.8v3.8h-3.8zM1246.8 384h3.8v3.8h-3.8zM1265 384h7.4v3.8h-7.4zM1283.2 384h3.8v3.8h-3.8zM1305.1 384h25.7v3.8h-25.7zM1337.9 384h18.4v3.8h-18.4zM1246.8 387.6h7.4v3.8h-7.4zM1261.4 387.6h7.4v3.8h-7.4zM1283.2 387.6h7.4v3.8h-7.4zM1308.8 387.6h3.8v3.8h-3.8zM1316.1 387.6h3.8v3.8h-3.8zM1327 387.6h7.4v3.8h-7.4zM1337.9 387.6h7.4v3.8h-7.4zM1352.5 387.6h3.8v3.8h-3.8zM1246.8 391.3h7.4v3.8h-7.4zM1257.7 391.3h7.4v3.8h-7.4zM1279.6 391.3h11.1v3.8h-11.1zM1294.2 391.3h7.4v3.8h-7.4zM1308.8 391.3h3.8v3.8h-3.8zM1316.1 391.3h3.8v3.8h-3.8zM1327 391.3h3.8v3.8h-3.8zM1337.9 391.3h3.8v3.8h-3.8zM1348.9 391.3h7.4v3.8h-7.4zM1246.8 394.9h7.4v3.8h-7.4zM1257.7 394.9h7.4v3.8h-7.4zM1279.6 394.9h3.8v3.8h-3.8zM1297.8 394.9h7.4v3.8h-7.4zM1316.1 394.9h7.4v3.8h-7.4zM1337.9 394.9h7.4v3.8h-7.4zM1348.9 394.9h7.4v3.8h-7.4zM1359.8 394.9h3.8v3.8h-3.8zM1246.8 398.6h3.8v3.8h-3.8zM1257.7 398.6h14.7v3.8h-14.7zM1290.5 398.6h18.4v3.8h-18.4zM1323.3 398.6h14.7v3.8h-14.7zM1341.6 398.6h3.8v3.8h-3.8zM1363.5 398.6h3.8v3.8h-3.8zM1254.1 402.2h7.4v3.8h-7.4zM1272.3 402.2h3.8v3.8h-3.8zM1283.2 402.2h3.8v3.8h-3.8zM1290.5 402.2h7.4v3.8h-7.4zM1301.5 402.2h36.6v3.8h-36.6zM1341.6 402.2h7.4v3.8h-7.4zM1352.5 402.2h11.1v3.8h-11.1zM1257.7 405.9h11.1v3.8h-11.1zM1275.9 405.9h3.8v3.8h-3.8zM1283.2 405.9h7.4v3.8h-7.4zM1294.2 405.9h3.8v3.8h-3.8zM1301.5 405.9h11.1v3.8h-11.1zM1316.1 405.9h3.8v3.8h-3.8zM1341.6 405.9h11.1v3.8h-11.1zM1356.2 405.9h3.8v3.8h-3.8zM1363.5 405.9h3.8v3.8h-3.8zM1217.6 260h25.5v25.5h-25.5zM1221.2 263.6v18.2h18.2v-18.2zM1224.9 267.3h10.9v10.9h-10.9zM1341.6 260h25.5v25.5h-25.5zM1345.2 263.6v18.2h18.2v-18.2zM1348.9 267.3h10.9v10.9h-10.9zM1217.6 384h25.5v25.5h-25.5zM1221.2 387.6v18.2h18.2v-18.2zM1224.9 391.3h10.9v10.9h-10.9z" fill="#0a0a0a"/>
<rect x="1334.3" y="376.7" width="18.2" height="18.2" fill="#fff"/>
<path d="M1334.3 376.7h18.2v18.2h-18.2zM1337.9 380.3v10.9h10.9v-10.9zM1341.6 384h3.6v3.6h-3.6z" fill="#0a0a0a"/>
<circle cx="1292.4" cy="335" r="18.9" fill="#fff"/><circle cx="1292.4" cy="335" r="17.4" fill="#1b74e4"/><path transform="translate(1292.4 335) scale(1)" d="M2.6 17.5V3.2h4.6l.8-5.4H2.6v-3.4c0-1.6.8-2.9 3-2.9h2.6v-4.7c-1-.2-2.6-.4-4.2-.4-4.5 0-7.3 2.7-7.3 7.5v3.9h-4.8v5.4h4.8v14.3z" fill="#fff"/>
<!-- floor plans -->
<path d="M164 383 L344 383 L344 507.5 L220 507.5 L220 475 L164 475Z" fill="#dbeaec"/>
<path d="M513 334 L575.5 334 L575.5 319 L613 319 L613 332.5 L683.5 332.5 L683.5 396 L677 396 L677 445 L703 445 L703 507.5 L513 507.5Z" fill="#ebe6f1"/>
<path d="M162.6 509 L344 509 L344 551.5 L336 551.5 L336 698 L272 698 L272 673.9 L224 673.9 L224 679 L160 679 L160 610 L147 610 L147 572 L162.6 572Z" fill="#ebe6f1"/>
<path d="M693.4 509 L512 509 L512 551.5 L520 551.5 L520 698 L584 698 L584 673.9 L632 673.9 L632 679 L696 679 L696 610 L709 610 L709 572 L693.4 572Z" fill="#ebe6f1"/>
<path d="M336 551.5 L520 551.5 L520 663.2 L429 663.2 L429 670.6 L370 670.6 L370 663.2 L336 663.2Z" fill="#dbeaec"/>
<path d="M760.9 686.8 L942.3 686.8 L942.3 729.3 L934.3 729.3 L934.3 875.8 L870.3 875.8 L870.3 851.7 L822.3 851.7 L822.3 856.8 L758.3 856.8 L758.3 787.8 L745.3 787.8 L745.3 749.8 L760.9 749.8Z" fill="#ebe6f1"/>
<path d="M1291.7 686.8 L1110.3 686.8 L1110.3 729.3 L1118.3 729.3 L1118.3 875.8 L1182.3 875.8 L1182.3 851.7 L1230.3 851.7 L1230.3 856.8 L1294.3 856.8 L1294.3 787.8 L1307.3 787.8 L1307.3 749.8 L1291.7 749.8Z" fill="#ebe6f1"/>
<path d="M760.9 687.6 L942.3 687.6 L942.3 645.1 L940.6 645.1 L940.6 509 L877 509 L877 522.2 L827.7 522.2 L827.7 522.4 L758.3 522.4 L758.3 586.6 L745.3 586.6 L745.3 624.6 L760.9 624.6Z" fill="#ebe6f1"/>
<path d="M1291.7 687.6 L1110.3 687.6 L1110.3 645.1 L1112 645.1 L1112 509 L1175.6 509 L1175.6 522.2 L1224.9 522.2 L1224.9 522.4 L1294.3 522.4 L1294.3 586.6 L1307.3 586.6 L1307.3 624.6 L1291.7 624.6Z" fill="#ebe6f1"/>
<path d="M934.3 729.3 L1118.3 729.3 L1118.3 841 L1027.3 841 L1027.3 848.4 L968.3 848.4 L968.3 841 L934.3 841Z" fill="#dbeaec"/>
<path d="M156 384.7L156 506.7M172 374L328.7 374M176 382L324 382M176 384.2L324 384.2M212 440.7A16.7 16.7 0 0 1 228.7 424M232 424A16.7 16.7 0 0 1 248.7 440.7M201.2 441.8L208.5 455M201.2 455L208.5 441.8M210 457.3A15.3 15.3 0 0 0 194.7 472.7M165.3 476.7L217.3 476.7L217.3 506.7L165.3 506.7ZM165.3 486.5L217.3 486.5M168 487L216 506.5M168 506.5L216 487M219.3 476L219.3 506.7M224.7 474.6L256 474.6M270.7 474L270.7 495.3L299.3 495.3L299.3 506.7M321.5 505A21.4 21.4 0 0 1 342.9 483.6M526.7 318.5L574 318.5M526.7 320.5L574 320.5M526.7 333.8L574 333.8M597.3 321.7L611.3 321.7L611.3 332.3L597.3 332.3ZM577.6 342.5L583.7 358.5M577.6 358.5L583.7 342.5M611.3 349.7A15.3 15.3 0 0 0 596 365M593.3 390.8A17.5 17.5 0 0 0 575.8 408.3M544 355.7A15.3 15.3 0 0 0 528.7 371M614.7 324.3L674.7 324.3M595.3 371.7A16.7 16.7 0 0 1 612 388.3M613.3 426.7A16.7 16.7 0 0 1 630 443.3M685.3 398.3L685.3 443.3M678.7 443.3L704.7 443.3L704.7 507M678.7 446.5L701.3 446.5L701.3 507M544.4 442A14.8 14.8 0 0 0 559.2 456.8M531.2 475L559.2 478M531.2 478L559.2 475M494.2 466.2L511.2 482M494.2 482L511.2 466.2M525.3 372.3L525.3 425.7L514.7 425.7M514 483A23.5 23.5 0 0 1 537.5 506.4M149 518.6L149 570.7M158.9 517L158.9 570.7M160.6 517L160.6 570.7M162.7 517L162.7 570.7M149 518.6L158.9 518.6M200 522L252.7 522M252.7 510.5L252.7 522M200 523.3A16.7 16.7 0 0 0 183.3 540M183.3 540L186 543M235.3 571.3L235.3 588M235.3 571.3A16.7 16.7 0 0 0 218.6 588M192 592.7A15.3 15.3 0 0 0 176.7 608M169.3 574.2L185.3 574.2L185.3 578.7L169.3 578.7ZM169.3 574.2L185.3 578.7M169.3 578.7L185.3 574.2M149.3 594L160 594L160 607.3L149.3 607.3ZM198 591.3A17.3 17.3 0 0 0 215.3 608.6M253.3 610.7A16.7 16.7 0 0 0 270 627.4M271.3 540A15.3 15.3 0 0 1 286.6 555.3M302 528.5L305.3 528.5L305.3 555.3L302 555.3ZM302 528.5L305.3 542L302 555.3M305.3 528.5L302 542L305.3 555.3M321.4 524A21.3 21.3 0 0 0 342.7 545.3M171.3 678.5L212 678.5M171.3 679.6L212 679.6M233.3 673.2L264 673.2M233.3 674.5L264 674.5M225.3 680L271.3 680M152.7 611L152.7 670.7M279 671.3L328 671.3M279 672.7L328 672.7M278.7 696.9L334.7 696.9M278.7 698.4L334.7 698.4M707 518.6L707 570.7M697.1 517L697.1 570.7M695.4 517L695.4 570.7M693.3 517L693.3 570.7M707 518.6L697.1 518.6M656 522L603.3 522M603.3 510.5L603.3 522M656 523.3A16.7 16.7 0 0 1 672.7 540M672.7 540L670 543M620.7 571.3L620.7 588M620.7 571.3A16.7 16.7 0 0 1 637.4 588M664 592.7A15.3 15.3 0 0 1 679.3 608M686.7 574.2L670.7 574.2L670.7 578.7L686.7 578.7ZM686.7 574.2L670.7 578.7M686.7 578.7L670.7 574.2M706.7 594L696 594L696 607.3L706.7 607.3ZM658 591.3A17.3 17.3 0 0 1 640.7 608.6M602.7 610.7A16.7 16.7 0 0 1 586 627.4M584.7 540A15.3 15.3 0 0 0 569.4 555.3M554 528.5L550.7 528.5L550.7 555.3L554 555.3ZM554 528.5L550.7 542L554 555.3M550.7 528.5L554 542L550.7 555.3M534.6 524A21.3 21.3 0 0 1 513.3 545.3M684.7 678.5L644 678.5M684.7 679.6L644 679.6M622.7 673.2L592 673.2M622.7 674.5L592 674.5M630.7 680L584.7 680M703.3 611L703.3 670.7M577 671.3L528 671.3M577 672.7L528 672.7M577.3 696.9L521.3 696.9M577.3 698.4L521.3 698.4M425.3 553L425.3 575.3M403.3 553.3A22 22 0 0 0 425.3 575.3M349.3 570.5L349.3 624M338 570.5L349.3 570.5M367.3 624.7L367.3 641.3M351.3 625.3A16 16 0 0 0 367.3 641.3M346.7 662.9L368.7 662.9M346.7 665.3L368.7 665.3M379 669.9L421 669.9M379 671.2L421 671.2M436 662.4L466 662.4M436 663.7L466 663.7M479.3 662.4L504 662.4M479.3 663.7L504 663.7M486.7 665.5L509.3 665.5M432 665.3L478 665.3L478 675.3L432 675.3ZM442.7 604L442.7 620.6M459.3 604A16.6 16.6 0 0 1 442.7 620.6M443.3 582A16 16 0 0 1 459.3 566M476 566A16 16 0 0 1 492 582M494.6 582.7A17.3 17.3 0 0 1 477.3 600M461.3 554L475.3 554L475.3 564L461.3 564ZM499.5 554L517.3 554L517.3 560.7L499.5 560.7ZM499.5 554L517.3 560.7M499.5 560.7L517.3 554M345 369.3L511.3 369.3M345 376.7L380.7 376.7M345 378.7L380.7 378.7M386.7 379.3L423.3 379.3L423.3 398.7L386.7 398.7ZM386.7 379.3L423.3 398.7M386.7 398.7L423.3 379.3M428.7 379.3L469.3 379.3L469.3 408L428.7 408ZM428.7 379.3L469.3 408M428.7 408L469.3 379.3M388.5 398.5L395.5 390L395.5 398.5M395.5 390L397.5 392L398.8 395L399.3 398.5M400.5 398.5L407.5 390L407.5 398.5M407.5 390L409.5 392L410.8 395L411.3 398.5M412.5 398.5L419.5 390L419.5 398.5M419.5 390L421.5 392L422.8 395L423.3 398.5M384 400L426 400L426 409M353.3 402L353.3 388L372.7 388L372.7 397M345.5 469L359.2 481.8M345.5 481.8L359.2 469M360 480A19.3 15.3 0 0 1 379.3 464.7M386 481.4A22 22 0 0 1 408 503.4M408 503.4A10 10 0 0 1 418 493.4M435.6 420.3L461 420.3L461 444.4L435.6 444.4ZM435.6 420.3L461 444.4M435.6 444.4L461 420.3M435.6 461L461 461L461 485.1L435.6 485.1ZM435.6 461L461 485.1M435.6 485.1L461 461M429.3 496L469.3 506.7M429.3 506.7L469.3 496M472 386L511.3 386M472 389.3L511.3 389.3M472 407.6L510.7 407.6M472 408.1L510.7 408.1M472 412.2L510.7 412.2M472 412.6L510.7 412.6M472 416.7L510.7 416.7M472 417.2L510.7 417.2M472 421.2L510.7 421.2M472 421.7L510.7 421.7M472 425.8L510.7 425.8M472 426.2L510.7 426.2M472 430.4L510.7 430.4M472 430.8L510.7 430.8M472 434.9L510.7 434.9M472 435.4L510.7 435.4M472 439.5L510.7 439.5M472 439.9L510.7 439.9M472 444L510.7 444M472 444.4L510.7 444.4M472 448.6L510.7 448.6M472 449L510.7 449M483.3 407L483.3 398.7L502 398.7L502 407M483.3 407L483.3 452M502 407L502 443M495.3 467.3L511.3 481M495.3 481L511.3 467.3M473.3 464.7A19.6 15.3 0 0 1 492.9 480M747.3 696.4L747.3 748.5M757.2 694.8L757.2 748.5M758.9 694.8L758.9 748.5M761 694.8L761 748.5M747.3 696.4L757.2 696.4M798.3 699.8L851 699.8M851 688.3L851 699.8M798.3 701.1A16.7 16.7 0 0 0 781.6 717.8M781.6 717.8L784.3 720.8M833.6 749.1L833.6 765.8M833.6 749.1A16.7 16.7 0 0 0 816.9 765.8M790.3 770.5A15.3 15.3 0 0 0 775 785.8M767.6 752L783.6 752L783.6 756.5L767.6 756.5ZM767.6 752L783.6 756.5M767.6 756.5L783.6 752M747.6 771.8L758.3 771.8L758.3 785.1L747.6 785.1ZM796.3 769.1A17.3 17.3 0 0 0 813.6 786.4M851.6 788.5A16.7 16.7 0 0 0 868.3 805.2M869.6 717.8A15.3 15.3 0 0 1 884.9 733.1M900.3 706.3L903.6 706.3L903.6 733.1L900.3 733.1ZM900.3 706.3L903.6 719.8L900.3 733.1M903.6 706.3L900.3 719.8L903.6 733.1M919.7 701.8A21.3 21.3 0 0 0 941 723.1M769.6 856.3L810.3 856.3M769.6 857.4L810.3 857.4M831.6 851L862.3 851M831.6 852.3L862.3 852.3M823.6 857.8L869.6 857.8M751 788.8L751 848.5M877.3 849.1L926.3 849.1M877.3 850.5L926.3 850.5M877 874.7L933 874.7M877 876.2L933 876.2M1305.3 696.4L1305.3 748.5M1295.4 694.8L1295.4 748.5M1293.7 694.8L1293.7 748.5M1291.6 694.8L1291.6 748.5M1305.3 696.4L1295.4 696.4M1254.3 699.8L1201.6 699.8M1201.6 688.3L1201.6 699.8M1254.3 701.1A16.7 16.7 0 0 1 1271 717.8M1271 717.8L1268.3 720.8M1219 749.1L1219 765.8M1219 749.1A16.7 16.7 0 0 1 1235.7 765.8M1262.3 770.5A15.3 15.3 0 0 1 1277.6 785.8M1285 752L1269 752L1269 756.5L1285 756.5ZM1285 752L1269 756.5M1285 756.5L1269 752M1305 771.8L1294.3 771.8L1294.3 785.1L1305 785.1ZM1256.3 769.1A17.3 17.3 0 0 1 1239 786.4M1201 788.5A16.7 16.7 0 0 1 1184.3 805.2M1183 717.8A15.3 15.3 0 0 0 1167.7 733.1M1152.3 706.3L1149 706.3L1149 733.1L1152.3 733.1ZM1152.3 706.3L1149 719.8L1152.3 733.1M1149 706.3L1152.3 719.8L1149 733.1M1132.9 701.8A21.3 21.3 0 0 1 1111.6 723.1M1283 856.3L1242.3 856.3M1283 857.4L1242.3 857.4M1221 851L1190.3 851M1221 852.3L1190.3 852.3M1229 857.8L1183 857.8M1301.6 788.8L1301.6 848.5M1175.3 849.1L1126.3 849.1M1175.3 850.5L1126.3 850.5M1175.6 874.7L1119.6 874.7M1175.6 876.2L1119.6 876.2M747.3 678L747.3 625.9M757.2 679.6L757.2 625.9M758.9 679.6L758.9 625.9M761 679.6L761 625.9M747.3 678L757.2 678M798.3 674.6L851 674.6M851 686.1L851 674.6M798.3 673.3A16.7 16.7 0 0 1 781.6 656.6M781.6 656.6L784.3 653.6M836.6 625.3L836.6 608.6M836.6 625.3A16.7 16.7 0 0 1 819.9 608.6M790.3 603.9A15.3 15.3 0 0 1 775 588.6M767.6 622.4L783.6 622.4L783.6 617.9L767.6 617.9ZM767.6 622.4L783.6 617.9M767.6 617.9L783.6 622.4M747.6 602.6L758.3 602.6L758.3 589.3L747.6 589.3ZM799.3 605.3A17.3 17.3 0 0 1 816.6 588M858.3 585.9A16.7 16.7 0 0 1 875 569.2M871.1 656.6A15.3 15.3 0 0 0 886.4 641.3M901.8 668.1L905.1 668.1L905.1 641.3L901.8 641.3ZM901.8 668.1L905.1 654.6L901.8 641.3M905.1 668.1L901.8 654.6L905.1 641.3M899.6 686.1L905.8 686.1L905.8 672.6L899.6 672.6ZM899.6 686.1L905.8 672.6M899.6 672.6L905.8 686.1M918.9 684.4A22.4 22.4 0 0 1 941.3 662M769.6 522.9L815.7 522.9M769.6 521.8L815.7 521.8M837 522.9L869 522.9M837 521.6L869 521.6M751 585.6L751 531M884 529.9L926.3 529.9M884 528.5L926.3 528.5M887 512.3L928.3 512.3M1305.3 678L1305.3 625.9M1295.4 679.6L1295.4 625.9M1293.7 679.6L1293.7 625.9M1291.6 679.6L1291.6 625.9M1305.3 678L1295.4 678M1254.3 674.6L1201.6 674.6M1201.6 686.1L1201.6 674.6M1254.3 673.3A16.7 16.7 0 0 0 1271 656.6M1271 656.6L1268.3 653.6M1216 625.3L1216 608.6M1216 625.3A16.7 16.7 0 0 0 1232.7 608.6M1262.3 603.9A15.3 15.3 0 0 0 1277.6 588.6M1285 622.4L1269 622.4L1269 617.9L1285 617.9ZM1285 622.4L1269 617.9M1285 617.9L1269 622.4M1305 602.6L1294.3 602.6L1294.3 589.3L1305 589.3ZM1253.3 605.3A17.3 17.3 0 0 0 1236 588M1194.3 585.9A16.7 16.7 0 0 0 1177.6 569.2M1181.5 656.6A15.3 15.3 0 0 1 1166.2 641.3M1150.8 668.1L1147.5 668.1L1147.5 641.3L1150.8 641.3ZM1150.8 668.1L1147.5 654.6L1150.8 641.3M1147.5 668.1L1150.8 654.6L1147.5 641.3M1153 686.1L1146.8 686.1L1146.8 672.6L1153 672.6ZM1153 686.1L1146.8 672.6M1153 672.6L1146.8 686.1M1133.7 684.4A22.4 22.4 0 0 0 1111.3 662M1283 522.9L1236.9 522.9M1283 521.8L1236.9 521.8M1215.6 522.9L1183.6 522.9M1215.6 521.6L1183.6 521.6M1301.6 585.6L1301.6 531M1168.6 529.9L1126.3 529.9M1168.6 528.5L1126.3 528.5M1165.6 512.3L1124.3 512.3M1015.3 730.8L1015.3 754.3M992.1 731.1A23.2 23.2 0 0 0 1015.3 754.3M947.6 748.3L947.6 801.8M936.3 748.3L947.6 748.3M965.6 802.5L965.6 819.1M949.6 803.1A16 16 0 0 0 965.6 819.1M945 840.7L967 840.7M945 843.1L967 843.1M977.3 847.7L1019.3 847.7M977.3 849L1019.3 849M1034.3 840.2L1064.3 840.2M1034.3 841.5L1064.3 841.5M1077.6 840.2L1102.3 840.2M1077.6 841.5L1102.3 841.5M1085 843.3L1107.6 843.3M1030.3 843.1L1076.3 843.1L1076.3 853.1L1030.3 853.1ZM1041 781.8L1041 798.4M1057.6 781.8A16.6 16.6 0 0 1 1041 798.4M1028.2 731.8L1043.8 731.8L1043.8 742.5L1028.2 742.5ZM1063.3 731.8L1078 731.8L1078 736.5L1063.3 736.5ZM1063.3 731.8L1078 736.5M1063.3 736.5L1078 731.8M1028.2 744.6A14 14 0 0 1 1042.2 758.6M1078.3 760.8A17 17 0 0 1 1061.3 777.8M943.3 520L1109.6 520M943.3 530.7L978.3 530.7L978.3 551.3L943.3 551.3ZM943.3 530.7L978.3 551.3M943.3 551.3L978.3 530.7M943.3 553.3L979 553.3M943.3 557.3L979 557.3M985 530.7L1021.7 530.7L1021.7 577.3L985 577.3ZM985 530.7L1021.7 577.3M985 577.3L1021.7 530.7M1027.7 530.7L1067 530.7L1067 585.3L1027.7 585.3ZM1027.7 530.7L1067 585.3M1027.7 585.3L1067 530.7M1073 530.7L1109 530.7L1109 561.3L1073 561.3ZM1073 530.7L1109 561.3M1073 561.3L1109 530.7M986.8 576.3L993.8 567.3L993.8 576.3M993.8 567.3L995.8 569.3L997.1 572.3L997.6 576.3M998.8 576.3L1005.8 567.3L1005.8 576.3M1005.8 567.3L1007.8 569.3L1009.1 572.3L1009.6 576.3M1010.8 576.3L1017.8 567.3L1017.8 576.3M1017.8 567.3L1019.8 569.3L1021.1 572.3L1021.6 576.3M982.3 577.8L1024.3 577.8L1024.3 586.8M951.6 579.8L951.6 565.8L971 565.8L971 574.8M943.8 646.8L957.5 659.6M943.8 659.6L957.5 646.8M958.3 657.8A19.3 15.3 0 0 1 977.6 642.5M984.3 659.2A22 22 0 0 1 1006.3 681.2M1006.3 681.2A10 10 0 0 1 1016.3 671.2M1033.9 598.1L1059.3 598.1L1059.3 622.2L1033.9 622.2ZM1033.9 598.1L1059.3 622.2M1033.9 622.2L1059.3 598.1M1033.9 638.8L1059.3 638.8L1059.3 662.9L1033.9 662.9ZM1033.9 638.8L1059.3 662.9M1033.9 662.9L1059.3 638.8M1027.6 673.8L1067.6 684.5M1027.6 684.5L1067.6 673.8M1070.3 563.8L1109.6 563.8M1070.3 567.1L1109.6 567.1M1070.3 585.4L1109 585.4M1070.3 585.9L1109 585.9M1070.3 590L1109 590M1070.3 590.4L1109 590.4M1070.3 594.5L1109 594.5M1070.3 595L1109 595M1070.3 599L1109 599M1070.3 599.5L1109 599.5M1070.3 603.6L1109 603.6M1070.3 604L1109 604M1070.3 608.2L1109 608.2M1070.3 608.6L1109 608.6M1070.3 612.7L1109 612.7M1070.3 613.2L1109 613.2M1070.3 617.2L1109 617.2M1070.3 617.7L1109 617.7M1070.3 621.8L1109 621.8M1070.3 622.2L1109 622.2M1070.3 626.4L1109 626.4M1070.3 626.8L1109 626.8M1081.6 584.8L1081.6 576.5L1100.3 576.5L1100.3 584.8M1081.6 584.8L1081.6 629.8M1100.3 584.8L1100.3 620.8M1093.6 645.1L1109.6 658.8M1093.6 658.8L1109.6 645.1M1071.6 642.5A19.6 15.3 0 0 1 1091.2 657.8" fill="none" stroke="#0d0d0d" stroke-width="0.9"/>
<path d="M201.2 441.8L208.5 441.8L208.5 455L201.2 455ZM183.3 441L183.3 453.3L177.3 459.3L166 459.3M175 441L175 445.5M577.3 339.7L588 339.7L595.3 332.3L595.3 320.3M577.6 342.5L583.7 342.5L583.7 358.5L577.6 358.5ZM575.8 408.3L593.3 408.3M531.2 473.8L559.2 473.8M520 478L521.5 475L523 478ZM494.2 466.2L511.2 466.2L511.2 482L494.2 482ZM167.3 573.3L167.3 584L160 591.3L148.7 591.3M152.7 578L152.7 574M304 516.5L301.8 518L304 519.5ZM341 548L344.5 548L342.8 545ZM688.7 573.3L688.7 584L696 591.3L707.3 591.3M703.3 578L703.3 574M552 516.5L554.2 518L552 519.5ZM515 548L511.5 548L513.2 545ZM498.7 560.7L518 560.7M506.5 561.5L509.5 561.5L508 565ZM346 403.2L362.7 403.2M346 408.2L362.7 408.2M346 413.3L362.7 413.3M346 418.3L362.7 418.3M346 423.4L362.7 423.4M346 428.4L362.7 428.4M346 433.5L362.7 433.5M346 438.5L362.7 438.5M346 443.6L362.7 443.6M346 448.6L362.7 448.6M364.7 398.6L380.7 398.6M364.7 403.6L380.7 403.6M364.7 408.7L380.7 408.7M364.7 413.7L380.7 413.7M364.7 418.8L380.7 418.8M364.7 423.8L380.7 423.8M364.7 428.9L380.7 428.9M364.7 433.9L380.7 433.9M364.7 439L380.7 439M364.7 444L380.7 444M346.6 392L346.6 455M380 392L380 455M345.5 469L359.2 469L359.2 481.8L345.5 481.8ZM418 493.4L418 504.7L426 504.7M385.3 481L385.3 506M433.8 418.5L462.8 418.5L462.8 446.2L433.8 446.2ZM433.8 459.2L462.8 459.2L462.8 486.9L433.8 486.9ZM480 416L487 411.5M481 411L486 417M369 404L376 414M376 404L369 414M494.2 466.2L511.2 466.2L511.2 482L494.2 482ZM765.6 751.1L765.6 761.8L758.3 769.1L747 769.1M751 755.8L751 751.8M902.3 694.3L900.1 695.8L902.3 697.3ZM939.3 725.8L942.8 725.8L941.1 722.8ZM1287 751.1L1287 761.8L1294.3 769.1L1305.6 769.1M1301.6 755.8L1301.6 751.8M1150.3 694.3L1152.5 695.8L1150.3 697.3ZM1113.3 725.8L1109.8 725.8L1111.5 722.8ZM765.6 623.3L765.6 612.6L758.3 605.3L747 605.3M751 618.6L751 622.6M896.3 680.1L894.1 678.6L896.3 677.1ZM1287 623.3L1287 612.6L1294.3 605.3L1305.6 605.3M1301.6 618.6L1301.6 622.6M1156.3 680.1L1158.5 678.6L1156.3 677.1ZM1062.4 739L1078 739M1069.3 739.8L1072.3 739.8L1070.8 743.3ZM944.3 581L961 581M944.3 586L961 586M944.3 591.1L961 591.1M944.3 596.1L961 596.1M944.3 601.2L961 601.2M944.3 606.2L961 606.2M944.3 611.3L961 611.3M944.3 616.3L961 616.3M944.3 621.4L961 621.4M944.3 626.4L961 626.4M963 576.4L979 576.4M963 581.4L979 581.4M963 586.5L979 586.5M963 591.5L979 591.5M963 596.6L979 596.6M963 601.6L979 601.6M963 606.7L979 606.7M963 611.7L979 611.7M963 616.8L979 616.8M963 621.8L979 621.8M944.9 569.8L944.9 632.8M978.3 569.8L978.3 632.8M943.8 646.8L957.5 646.8L957.5 659.6L943.8 659.6ZM1016.3 671.2L1016.3 682.5L1024.3 682.5M983.6 658.8L983.6 683.8M1032.1 596.3L1061.1 596.3L1061.1 624L1032.1 624ZM1032.1 637L1061.1 637L1061.1 664.7L1032.1 664.7ZM1095.3 593.8L1102.3 589.3M1096.3 588.8L1101.3 594.8M967.3 581.8L974.3 591.8M974.3 581.8L967.3 591.8M1092.5 644L1109.5 644L1109.5 659.8L1092.5 659.8Z" fill="none" stroke="#0d0d0d" stroke-width="1.5"/>
<rect x="187.3" y="441.3" width="10" height="4" rx="0.8" fill="#f4f4f8" stroke="#0d0d0d" stroke-width="0.7"/>
<ellipse cx="192.4" cy="450.5" rx="3.8" ry="5.3" fill="#f4f4f8" stroke="#0d0d0d" stroke-width="0.8"/>
<rect x="166.7" y="462" width="8.6" height="10.7" rx="0.8" fill="none" stroke="#0d0d0d" stroke-width="0.7"/>
<rect x="168.5" y="464" width="5" height="6.7" rx="0.8" fill="none" stroke="#0d0d0d" stroke-width="0.9"/>
<rect x="174" y="478.7" width="17.3" height="6" rx="1" fill="none" stroke="#0d0d0d" stroke-width="0.6"/>
<rect x="195.3" y="478.7" width="18" height="6" rx="1" fill="none" stroke="#0d0d0d" stroke-width="0.6"/>
<rect x="260" y="476" width="10" height="12.7" rx="1.2" fill="none" stroke="#0d0d0d" stroke-width="0.7"/>
<rect x="261" y="477" width="8" height="10.7" rx="1" fill="none" stroke="#0d0d0d" stroke-width="0.5"/>
<circle cx="265" cy="482.4" r="0.9" fill="#0d0d0d"/>
<rect x="278" y="496.7" width="16" height="10.2" rx="3.2" fill="#0d0d0d"/>
<circle cx="282.3" cy="501.8" r="3.2" fill="none" stroke="#c4c4cc" stroke-width="0.5"/><path d="M282.3 498V505.6M278.5 501.8H286.1" stroke="#d0d0d6" stroke-width="0.7" fill="none"/>
<circle cx="289.7" cy="501.8" r="3.2" fill="none" stroke="#c4c4cc" stroke-width="0.5"/><path d="M289.7 498V505.6M285.9 501.8H293.5" stroke="#d0d0d6" stroke-width="0.7" fill="none"/>
<circle cx="314.7" cy="433" r="7.6" fill="none" stroke="#0d0d0d" stroke-width="0.6"/>
<rect x="530" y="323.7" width="18" height="6.6" rx="1" fill="none" stroke="#0d0d0d" stroke-width="0.6"/>
<rect x="552.7" y="323.7" width="18" height="6.6" rx="1" fill="none" stroke="#0d0d0d" stroke-width="0.6"/>
<ellipse cx="604.3" cy="327" rx="3.9" ry="3.9" fill="none" stroke="#0d0d0d" stroke-width="0.8"/>
<circle cx="604.3" cy="327" r="0.8" fill="#0d0d0d"/>
<rect x="585.3" y="345" width="3.4" height="9.3" rx="0.8" fill="#f4f4f8" stroke="#0d0d0d" stroke-width="0.7"/>
<ellipse cx="594.3" cy="349.7" rx="5.3" ry="3.8" fill="#f4f4f8" stroke="#0d0d0d" stroke-width="0.8"/>
<rect x="532.8" y="468.4" width="10" height="3.2" rx="0.8" fill="#f4f4f8" stroke="#0d0d0d" stroke-width="0.7"/>
<ellipse cx="537.8" cy="462.8" rx="3.6" ry="5.2" fill="#f4f4f8" stroke="#0d0d0d" stroke-width="0.8"/>
<rect x="547.6" y="462.4" width="11.2" height="9.6" rx="0.8" fill="none" stroke="#0d0d0d" stroke-width="0.7"/>
<rect x="549.5" y="464.3" width="7.4" height="6.2" rx="0.8" fill="none" stroke="#0d0d0d" stroke-width="0.9"/>
<rect x="515.3" y="382.3" width="9.4" height="15.4" rx="3.2" fill="#0d0d0d"/>
<circle cx="520" cy="386.5" r="3.1" fill="none" stroke="#c4c4cc" stroke-width="0.5"/><path d="M520 382.8V390.1M516.3 386.5H523.7" stroke="#d0d0d6" stroke-width="0.7" fill="none"/>
<circle cx="520" cy="393.5" r="3.1" fill="none" stroke="#c4c4cc" stroke-width="0.5"/><path d="M520 389.9V397.2M516.3 393.5H523.7" stroke="#d0d0d6" stroke-width="0.7" fill="none"/>
<rect x="516" y="407" width="8.7" height="13.3" rx="1.2" fill="none" stroke="#0d0d0d" stroke-width="0.7"/>
<rect x="517" y="408" width="6.7" height="11.3" rx="1" fill="none" stroke="#0d0d0d" stroke-width="0.5"/>
<circle cx="520.4" cy="413.6" r="0.9" fill="#0d0d0d"/>
<circle cx="619.3" cy="476" r="7.6" fill="none" stroke="#0d0d0d" stroke-width="0.6"/>
<rect x="151.2" y="525" width="6.6" height="19" rx="1" fill="none" stroke="#0d0d0d" stroke-width="0.6"/>
<rect x="151.2" y="547" width="6.6" height="18" rx="1" fill="none" stroke="#0d0d0d" stroke-width="0.6"/>
<rect x="202.7" y="511.6" width="16" height="9.4" rx="3.2" fill="#0d0d0d"/>
<circle cx="207" cy="516.3" r="3.2" fill="none" stroke="#c4c4cc" stroke-width="0.5"/><path d="M207 512.5V520.1M203.2 516.3H210.8" stroke="#d0d0d6" stroke-width="0.7" fill="none"/>
<circle cx="214.4" cy="516.3" r="3.2" fill="none" stroke="#c4c4cc" stroke-width="0.5"/><path d="M214.4 512.5V520.1M210.6 516.3H218.2" stroke="#d0d0d6" stroke-width="0.7" fill="none"/>
<rect x="237" y="512.3" width="14" height="9" rx="1.2" fill="none" stroke="#0d0d0d" stroke-width="0.7"/>
<rect x="238" y="513.3" width="12" height="7" rx="1" fill="none" stroke="#0d0d0d" stroke-width="0.5"/>
<circle cx="244" cy="516.8" r="0.9" fill="#0d0d0d"/>
<rect x="172.7" y="581.3" width="9.3" height="4" rx="0.8" fill="#f4f4f8" stroke="#0d0d0d" stroke-width="0.7"/>
<ellipse cx="177.3" cy="591" rx="3.8" ry="5.3" fill="#f4f4f8" stroke="#0d0d0d" stroke-width="0.8"/>
<ellipse cx="154.7" cy="600.6" rx="3.9" ry="3.9" fill="none" stroke="#0d0d0d" stroke-width="0.8"/>
<circle cx="154.7" cy="600.6" r="0.8" fill="#0d0d0d"/>
<rect x="295.3" y="530.7" width="4" height="9.3" rx="0.8" fill="#f4f4f8" stroke="#0d0d0d" stroke-width="0.7"/>
<ellipse cx="290" cy="535.3" rx="5.3" ry="3.8" fill="#f4f4f8" stroke="#0d0d0d" stroke-width="0.8"/>
<rect x="290.7" y="544.7" width="8.6" height="10.6" rx="0.8" fill="none" stroke="#0d0d0d" stroke-width="0.7"/>
<rect x="292.5" y="546.5" width="5" height="7" rx="0.8" fill="none" stroke="#0d0d0d" stroke-width="0.9"/>
<circle cx="304.7" cy="616.7" r="7.6" fill="none" stroke="#0d0d0d" stroke-width="0.6"/>
<rect x="698.2" y="525" width="6.6" height="19" rx="1" fill="none" stroke="#0d0d0d" stroke-width="0.6"/>
<rect x="698.2" y="547" width="6.6" height="18" rx="1" fill="none" stroke="#0d0d0d" stroke-width="0.6"/>
<rect x="637.3" y="511.6" width="16" height="9.4" rx="3.2" fill="#0d0d0d"/>
<circle cx="641.6" cy="516.3" r="3.2" fill="none" stroke="#c4c4cc" stroke-width="0.5"/><path d="M641.6 512.5V520.1M637.8 516.3H645.4" stroke="#d0d0d6" stroke-width="0.7" fill="none"/>
<circle cx="649" cy="516.3" r="3.2" fill="none" stroke="#c4c4cc" stroke-width="0.5"/><path d="M649 512.5V520.1M645.2 516.3H652.8" stroke="#d0d0d6" stroke-width="0.7" fill="none"/>
<rect x="605" y="512.3" width="14" height="9" rx="1.2" fill="none" stroke="#0d0d0d" stroke-width="0.7"/>
<rect x="606" y="513.3" width="12" height="7" rx="1" fill="none" stroke="#0d0d0d" stroke-width="0.5"/>
<circle cx="612" cy="516.8" r="0.9" fill="#0d0d0d"/>
<rect x="674" y="581.3" width="9.3" height="4" rx="0.8" fill="#f4f4f8" stroke="#0d0d0d" stroke-width="0.7"/>
<ellipse cx="678.7" cy="591" rx="3.8" ry="5.3" fill="#f4f4f8" stroke="#0d0d0d" stroke-width="0.8"/>
<ellipse cx="701.4" cy="600.6" rx="3.9" ry="3.9" fill="none" stroke="#0d0d0d" stroke-width="0.8"/>
<circle cx="701.4" cy="600.6" r="0.8" fill="#0d0d0d"/>
<rect x="556.7" y="530.7" width="4" height="9.3" rx="0.8" fill="#f4f4f8" stroke="#0d0d0d" stroke-width="0.7"/>
<ellipse cx="566" cy="535.3" rx="5.3" ry="3.8" fill="#f4f4f8" stroke="#0d0d0d" stroke-width="0.8"/>
<rect x="556.7" y="544.7" width="8.6" height="10.6" rx="0.8" fill="none" stroke="#0d0d0d" stroke-width="0.7"/>
<rect x="558.5" y="546.5" width="5" height="7" rx="0.8" fill="none" stroke="#0d0d0d" stroke-width="0.9"/>
<circle cx="553" cy="616" r="7.6" fill="none" stroke="#0d0d0d" stroke-width="0.6"/>
<rect x="339.3" y="572.7" width="9.4" height="14" rx="1.2" fill="none" stroke="#0d0d0d" stroke-width="0.7"/>
<rect x="340.3" y="573.7" width="7.4" height="12" rx="1" fill="none" stroke="#0d0d0d" stroke-width="0.5"/>
<circle cx="344" cy="579.7" r="0.9" fill="#0d0d0d"/>
<rect x="339.3" y="606" width="10" height="16" rx="3.2" fill="#0d0d0d"/>
<circle cx="344.3" cy="610.3" r="3.2" fill="none" stroke="#c4c4cc" stroke-width="0.5"/><path d="M344.3 606.5V614.1M340.5 610.3H348.1" stroke="#d0d0d6" stroke-width="0.7" fill="none"/>
<circle cx="344.3" cy="617.7" r="3.2" fill="none" stroke="#c4c4cc" stroke-width="0.5"/><path d="M344.3 613.9V621.5M340.5 617.7H348.1" stroke="#d0d0d6" stroke-width="0.7" fill="none"/>
<rect x="435.3" y="668" width="18" height="6" rx="1" fill="none" stroke="#0d0d0d" stroke-width="0.6"/>
<rect x="457.3" y="668" width="18" height="6" rx="1" fill="none" stroke="#0d0d0d" stroke-width="0.6"/>
<rect x="442.7" y="554" width="10.6" height="4" rx="0.8" fill="#f4f4f8" stroke="#0d0d0d" stroke-width="0.7"/>
<ellipse cx="447.7" cy="563.5" rx="3.5" ry="5" fill="#f4f4f8" stroke="#0d0d0d" stroke-width="0.8"/>
<rect x="482" y="554" width="10" height="4" rx="0.8" fill="#f4f4f8" stroke="#0d0d0d" stroke-width="0.7"/>
<ellipse cx="487" cy="563.5" rx="3.5" ry="5" fill="#f4f4f8" stroke="#0d0d0d" stroke-width="0.8"/>
<ellipse cx="468.3" cy="559" rx="3.8" ry="3.8" fill="none" stroke="#0d0d0d" stroke-width="0.8"/>
<circle cx="468.3" cy="559" r="0.8" fill="#0d0d0d"/>
<circle cx="400" cy="616.4" r="7.6" fill="none" stroke="#0d0d0d" stroke-width="0.6"/>
<rect x="464.6" y="424" width="2" height="17" rx="1" fill="#555" stroke="#0d0d0d" stroke-width="0.4"/>
<rect x="430" y="415.5" width="3" height="6" rx="0.3" fill="#999" stroke="#0d0d0d" stroke-width="0.5"/>
<rect x="430" y="443.5" width="3" height="6" rx="0.3" fill="#999" stroke="#0d0d0d" stroke-width="0.5"/>
<rect x="464.6" y="464.7" width="2" height="17" rx="1" fill="#555" stroke="#0d0d0d" stroke-width="0.4"/>
<rect x="430" y="456.2" width="3" height="6" rx="0.3" fill="#999" stroke="#0d0d0d" stroke-width="0.5"/>
<rect x="430" y="484.2" width="3" height="6" rx="0.3" fill="#999" stroke="#0d0d0d" stroke-width="0.5"/>
<rect x="454" y="510.3" width="14" height="1.3" rx="0.4" fill="#ddd" stroke="#0d0d0d" stroke-width="0.5"/>
<rect x="355.3" y="509.3" width="64" height="11.4" fill="#fff" stroke="#4a66ad" stroke-width="1"/>
<rect x="355.3" y="509.3" width="10" height="11.4" fill="#3d5a9e"/>
<circle cx="412.8" cy="513.9" r="2.1" fill="#cfe6fa" stroke="#7aa7d6" stroke-width="0.8"/><path d="M414.5 515.6l3 3" stroke="#8f9fbd" stroke-width="1.3"/>
<circle cx="422.2" cy="532" r="5.8" fill="none" stroke="#0d0d0d" stroke-width="0.6"/>
<rect x="749.5" y="702.8" width="6.6" height="19" rx="1" fill="none" stroke="#0d0d0d" stroke-width="0.6"/>
<rect x="749.5" y="724.8" width="6.6" height="18" rx="1" fill="none" stroke="#0d0d0d" stroke-width="0.6"/>
<rect x="801" y="689.4" width="16" height="9.4" rx="3.2" fill="#0d0d0d"/>
<circle cx="805.3" cy="694.1" r="3.2" fill="none" stroke="#c4c4cc" stroke-width="0.5"/><path d="M805.3 690.3V697.9M801.5 694.1H809.1" stroke="#d0d0d6" stroke-width="0.7" fill="none"/>
<circle cx="812.7" cy="694.1" r="3.2" fill="none" stroke="#c4c4cc" stroke-width="0.5"/><path d="M812.7 690.3V697.9M808.9 694.1H816.5" stroke="#d0d0d6" stroke-width="0.7" fill="none"/>
<rect x="835.3" y="690.1" width="14" height="9" rx="1.2" fill="none" stroke="#0d0d0d" stroke-width="0.7"/>
<rect x="836.3" y="691.1" width="12" height="7" rx="1" fill="none" stroke="#0d0d0d" stroke-width="0.5"/>
<circle cx="842.3" cy="694.6" r="0.9" fill="#0d0d0d"/>
<rect x="771" y="759.1" width="9.3" height="4" rx="0.8" fill="#f4f4f8" stroke="#0d0d0d" stroke-width="0.7"/>
<ellipse cx="775.6" cy="768.8" rx="3.8" ry="5.3" fill="#f4f4f8" stroke="#0d0d0d" stroke-width="0.8"/>
<ellipse cx="752.9" cy="778.5" rx="3.9" ry="3.9" fill="none" stroke="#0d0d0d" stroke-width="0.8"/>
<circle cx="752.9" cy="778.5" r="0.8" fill="#0d0d0d"/>
<rect x="893.6" y="708.5" width="4" height="9.3" rx="0.8" fill="#f4f4f8" stroke="#0d0d0d" stroke-width="0.7"/>
<ellipse cx="888.3" cy="713.1" rx="5.3" ry="3.8" fill="#f4f4f8" stroke="#0d0d0d" stroke-width="0.8"/>
<rect x="889" y="722.5" width="8.6" height="10.6" rx="0.8" fill="none" stroke="#0d0d0d" stroke-width="0.7"/>
<rect x="890.8" y="724.3" width="5" height="7" rx="0.8" fill="none" stroke="#0d0d0d" stroke-width="0.9"/>
<circle cx="903" cy="794.5" r="7.6" fill="none" stroke="#0d0d0d" stroke-width="0.6"/>
<rect x="1296.5" y="702.8" width="6.6" height="19" rx="1" fill="none" stroke="#0d0d0d" stroke-width="0.6"/>
<rect x="1296.5" y="724.8" width="6.6" height="18" rx="1" fill="none" stroke="#0d0d0d" stroke-width="0.6"/>
<rect x="1235.6" y="689.4" width="16" height="9.4" rx="3.2" fill="#0d0d0d"/>
<circle cx="1239.9" cy="694.1" r="3.2" fill="none" stroke="#c4c4cc" stroke-width="0.5"/><path d="M1239.9 690.3V697.9M1236.1 694.1H1243.7" stroke="#d0d0d6" stroke-width="0.7" fill="none"/>
<circle cx="1247.3" cy="694.1" r="3.2" fill="none" stroke="#c4c4cc" stroke-width="0.5"/><path d="M1247.3 690.3V697.9M1243.5 694.1H1251.1" stroke="#d0d0d6" stroke-width="0.7" fill="none"/>
<rect x="1203.3" y="690.1" width="14" height="9" rx="1.2" fill="none" stroke="#0d0d0d" stroke-width="0.7"/>
<rect x="1204.3" y="691.1" width="12" height="7" rx="1" fill="none" stroke="#0d0d0d" stroke-width="0.5"/>
<circle cx="1210.3" cy="694.6" r="0.9" fill="#0d0d0d"/>
<rect x="1272.3" y="759.1" width="9.3" height="4" rx="0.8" fill="#f4f4f8" stroke="#0d0d0d" stroke-width="0.7"/>
<ellipse cx="1277" cy="768.8" rx="3.8" ry="5.3" fill="#f4f4f8" stroke="#0d0d0d" stroke-width="0.8"/>
<ellipse cx="1299.6" cy="778.5" rx="3.9" ry="3.9" fill="none" stroke="#0d0d0d" stroke-width="0.8"/>
<circle cx="1299.6" cy="778.5" r="0.8" fill="#0d0d0d"/>
<rect x="1155" y="708.5" width="4" height="9.3" rx="0.8" fill="#f4f4f8" stroke="#0d0d0d" stroke-width="0.7"/>
<ellipse cx="1164.3" cy="713.1" rx="5.3" ry="3.8" fill="#f4f4f8" stroke="#0d0d0d" stroke-width="0.8"/>
<rect x="1155" y="722.5" width="8.6" height="10.6" rx="0.8" fill="none" stroke="#0d0d0d" stroke-width="0.7"/>
<rect x="1156.8" y="724.3" width="5" height="7" rx="0.8" fill="none" stroke="#0d0d0d" stroke-width="0.9"/>
<circle cx="1156.2" cy="793.4" r="7.6" fill="none" stroke="#0d0d0d" stroke-width="0.6"/>
<rect x="749.5" y="652.6" width="6.6" height="19" rx="1" fill="none" stroke="#0d0d0d" stroke-width="0.6"/>
<rect x="749.5" y="631.6" width="6.6" height="18" rx="1" fill="none" stroke="#0d0d0d" stroke-width="0.6"/>
<rect x="801" y="675.6" width="16" height="9.4" rx="3.2" fill="#0d0d0d"/>
<circle cx="805.3" cy="680.3" r="3.2" fill="none" stroke="#c4c4cc" stroke-width="0.5"/><path d="M805.3 676.5V684.1M801.5 680.3H809.1" stroke="#d0d0d6" stroke-width="0.7" fill="none"/>
<circle cx="812.7" cy="680.3" r="3.2" fill="none" stroke="#c4c4cc" stroke-width="0.5"/><path d="M812.7 676.5V684.1M808.9 680.3H816.5" stroke="#d0d0d6" stroke-width="0.7" fill="none"/>
<rect x="835.3" y="675.3" width="14" height="9" rx="1.2" fill="none" stroke="#0d0d0d" stroke-width="0.7"/>
<rect x="836.3" y="676.3" width="12" height="7" rx="1" fill="none" stroke="#0d0d0d" stroke-width="0.5"/>
<circle cx="842.3" cy="679.8" r="0.9" fill="#0d0d0d"/>
<rect x="771" y="611.3" width="9.3" height="4" rx="0.8" fill="#f4f4f8" stroke="#0d0d0d" stroke-width="0.7"/>
<ellipse cx="775.6" cy="605.6" rx="3.8" ry="5.3" fill="#f4f4f8" stroke="#0d0d0d" stroke-width="0.8"/>
<ellipse cx="752.9" cy="595.9" rx="3.9" ry="3.9" fill="none" stroke="#0d0d0d" stroke-width="0.8"/>
<circle cx="752.9" cy="595.9" r="0.8" fill="#0d0d0d"/>
<rect x="895.1" y="656.6" width="4" height="9.3" rx="0.8" fill="#f4f4f8" stroke="#0d0d0d" stroke-width="0.7"/>
<ellipse cx="889.8" cy="661.3" rx="5.3" ry="3.8" fill="#f4f4f8" stroke="#0d0d0d" stroke-width="0.8"/>
<rect x="890.5" y="641.3" width="8.6" height="10.6" rx="0.8" fill="none" stroke="#0d0d0d" stroke-width="0.7"/>
<rect x="892.3" y="643.1" width="5" height="7" rx="0.8" fill="none" stroke="#0d0d0d" stroke-width="0.9"/>
<circle cx="906.3" cy="596.6" r="7.6" fill="none" stroke="#0d0d0d" stroke-width="0.6"/>
<rect x="1296.5" y="652.6" width="6.6" height="19" rx="1" fill="none" stroke="#0d0d0d" stroke-width="0.6"/>
<rect x="1296.5" y="631.6" width="6.6" height="18" rx="1" fill="none" stroke="#0d0d0d" stroke-width="0.6"/>
<rect x="1235.6" y="675.6" width="16" height="9.4" rx="3.2" fill="#0d0d0d"/>
<circle cx="1239.9" cy="680.3" r="3.2" fill="none" stroke="#c4c4cc" stroke-width="0.5"/><path d="M1239.9 676.5V684.1M1236.1 680.3H1243.7" stroke="#d0d0d6" stroke-width="0.7" fill="none"/>
<circle cx="1247.3" cy="680.3" r="3.2" fill="none" stroke="#c4c4cc" stroke-width="0.5"/><path d="M1247.3 676.5V684.1M1243.5 680.3H1251.1" stroke="#d0d0d6" stroke-width="0.7" fill="none"/>
<rect x="1203.3" y="675.3" width="14" height="9" rx="1.2" fill="none" stroke="#0d0d0d" stroke-width="0.7"/>
<rect x="1204.3" y="676.3" width="12" height="7" rx="1" fill="none" stroke="#0d0d0d" stroke-width="0.5"/>
<circle cx="1210.3" cy="679.8" r="0.9" fill="#0d0d0d"/>
<rect x="1272.3" y="611.3" width="9.3" height="4" rx="0.8" fill="#f4f4f8" stroke="#0d0d0d" stroke-width="0.7"/>
<ellipse cx="1277" cy="605.6" rx="3.8" ry="5.3" fill="#f4f4f8" stroke="#0d0d0d" stroke-width="0.8"/>
<ellipse cx="1299.6" cy="595.9" rx="3.9" ry="3.9" fill="none" stroke="#0d0d0d" stroke-width="0.8"/>
<circle cx="1299.6" cy="595.9" r="0.8" fill="#0d0d0d"/>
<rect x="1153.5" y="656.6" width="4" height="9.3" rx="0.8" fill="#f4f4f8" stroke="#0d0d0d" stroke-width="0.7"/>
<ellipse cx="1162.8" cy="661.3" rx="5.3" ry="3.8" fill="#f4f4f8" stroke="#0d0d0d" stroke-width="0.8"/>
<rect x="1153.5" y="641.3" width="8.6" height="10.6" rx="0.8" fill="none" stroke="#0d0d0d" stroke-width="0.7"/>
<rect x="1155.3" y="643.1" width="5" height="7" rx="0.8" fill="none" stroke="#0d0d0d" stroke-width="0.9"/>
<circle cx="1144.9" cy="596.1" r="7.6" fill="none" stroke="#0d0d0d" stroke-width="0.6"/>
<rect x="937.6" y="750.5" width="9.4" height="14" rx="1.2" fill="none" stroke="#0d0d0d" stroke-width="0.7"/>
<rect x="938.6" y="751.5" width="7.4" height="12" rx="1" fill="none" stroke="#0d0d0d" stroke-width="0.5"/>
<circle cx="942.3" cy="757.5" r="0.9" fill="#0d0d0d"/>
<rect x="937.6" y="783.8" width="10" height="16" rx="3.2" fill="#0d0d0d"/>
<circle cx="942.6" cy="788.1" r="3.2" fill="none" stroke="#c4c4cc" stroke-width="0.5"/><path d="M942.6 784.3V791.9M938.8 788.1H946.4" stroke="#d0d0d6" stroke-width="0.7" fill="none"/>
<circle cx="942.6" cy="795.5" r="3.2" fill="none" stroke="#c4c4cc" stroke-width="0.5"/><path d="M942.6 791.7V799.3M938.8 795.5H946.4" stroke="#d0d0d6" stroke-width="0.7" fill="none"/>
<rect x="1033.6" y="845.8" width="18" height="6" rx="1" fill="none" stroke="#0d0d0d" stroke-width="0.6"/>
<rect x="1055.6" y="845.8" width="18" height="6" rx="1" fill="none" stroke="#0d0d0d" stroke-width="0.6"/>
<ellipse cx="1036" cy="737.2" rx="3.8" ry="3.8" fill="none" stroke="#0d0d0d" stroke-width="0.8"/>
<circle cx="1036" cy="737.2" r="0.8" fill="#0d0d0d"/>
<rect x="1047.2" y="731.8" width="10.4" height="3.5" rx="0.8" fill="#f4f4f8" stroke="#0d0d0d" stroke-width="0.7"/>
<ellipse cx="1052" cy="741" rx="3.5" ry="5" fill="#f4f4f8" stroke="#0d0d0d" stroke-width="0.8"/>
<circle cx="998.3" cy="794.2" r="7.6" fill="none" stroke="#0d0d0d" stroke-width="0.6"/>
<rect x="1062.9" y="601.8" width="2" height="17" rx="1" fill="#555" stroke="#0d0d0d" stroke-width="0.4"/>
<rect x="1028.3" y="593.3" width="3" height="6" rx="0.3" fill="#999" stroke="#0d0d0d" stroke-width="0.5"/>
<rect x="1028.3" y="621.3" width="3" height="6" rx="0.3" fill="#999" stroke="#0d0d0d" stroke-width="0.5"/>
<rect x="1062.9" y="642.5" width="2" height="17" rx="1" fill="#555" stroke="#0d0d0d" stroke-width="0.4"/>
<rect x="1028.3" y="634" width="3" height="6" rx="0.3" fill="#999" stroke="#0d0d0d" stroke-width="0.5"/>
<rect x="1028.3" y="662" width="3" height="6" rx="0.3" fill="#999" stroke="#0d0d0d" stroke-width="0.5"/>
<rect x="1052.3" y="688.1" width="14" height="1.3" rx="0.4" fill="#ddd" stroke="#0d0d0d" stroke-width="0.5"/>
<rect x="950.4" y="689.4" width="64" height="11.4" fill="#fff" stroke="#4a66ad" stroke-width="1"/>
<rect x="950.4" y="689.4" width="10" height="11.4" fill="#3d5a9e"/>
<circle cx="1007.9" cy="694" r="2.1" fill="#cfe6fa" stroke="#7aa7d6" stroke-width="0.8"/><path d="M1009.6 695.7l3 3" stroke="#8f9fbd" stroke-width="1.3"/>
<circle cx="1024.5" cy="708.8" r="5.8" fill="none" stroke="#0d0d0d" stroke-width="0.6"/>
<path d="M155.3 368H172V384.7H155.3ZM328.7 368H345V384.7H328.7ZM162.7 384.7H166V476H162.7ZM172 381.3H176V384.7H172ZM218.7 381.3H239.3V384.7H218.7ZM268 381.3H284.7V384.7H268ZM324 381.3H328.7V384.7H324ZM223.3 371.3H232V382H223.3ZM276.7 371.3H284.7V382H276.7ZM228.7 382H232V444H228.7ZM282 382H284.7V443.7H282ZM249.3 440.7H284.7V443.7H249.3ZM162.7 438.4H210.7V441H162.7ZM208 438.7H210.7V457.3H208ZM162.7 473H224.7V476.3H162.7ZM256 473.3H259.3V507.3H256ZM510.7 317.7H526.7V334.3H510.7ZM511.3 334.3H514.7V482.6H511.3ZM511.3 358.3H522.7V379.7H511.3ZM522.7 370.3H528V372.3H522.7ZM574 317.7H577.3V359.7H574ZM574 317.7H614.7V320.3H574ZM611.3 317.7H614.7V365.7H611.3ZM594.5 363.5H597V366.5H594.5ZM545.3 357.7H594V360.3H545.3ZM545.3 357.7H548V423.7H545.3ZM545.3 421H594V423.7H545.3ZM591.3 358.3H594V390.3H591.3ZM591.3 407.7H594V423.7H591.3ZM614.7 331H674.7V334.3H614.7ZM682 334.3H685.3V398.3H682ZM674.7 317.7H691.3V334.3H674.7ZM613.3 394.3H685.3V398.3H613.3ZM612 388.3H614.7V398.3H612ZM612 397H615V426.7H612ZM675.3 398.3H678.7V444H675.3ZM676 444H678V507.3H676ZM675.3 464H678.7V472H675.3ZM675.3 500H678.7V507.3H675.3ZM612 443.3H678V446.7H612ZM514 442H544.4V444.4H514ZM529.2 444.4H531.2V478.8H529.2ZM559.2 441.6H561.6V480.8H559.2ZM514 478.4H561.6V480.8H514ZM197 510H200V523H197ZM185.3 542.4H250.7V545.3H185.3ZM186 542.7H188.7V590H186ZM248 542.7H250.7V590H248ZM186 587.3H217.3V590H186ZM235.3 587.3H250.7V590H235.3ZM146 570.7H148.7V611.3H146ZM146 570.7H186.7V573.3H146ZM146 608.7H192V611.3H146ZM190 590H192.7V593H190ZM215.3 608.3H253.3V610.7H215.3ZM158.7 610.7H162V680H158.7ZM222 608.7H225.3V686.7H222ZM270 608.7H273.3V698.7H270ZM268.7 510H272V540H268.7ZM271.3 524.7H306.7V527.3H271.3ZM306 510H308.7V558H306ZM268.7 555.3H308.7V558.4H268.7ZM162 678H171.3V680H162ZM212 678H225.3V680H212ZM225.3 672.7H233.3V675H225.3ZM264 672.7H271.3V675H264ZM218 680.7H225.3V686.7H218ZM273.3 670.7H279V673.3H273.3ZM328 670.7H334.7V673.3H328ZM271.3 696.3H278.7V698.7H271.3ZM656 510H659V523H656ZM605.3 542.4H670.7V545.3H605.3ZM667.3 542.7H670V590H667.3ZM605.3 542.7H608V590H605.3ZM638.7 587.3H670V590H638.7ZM605.3 587.3H620.7V590H605.3ZM707.3 570.7H710V611.3H707.3ZM669.3 570.7H710V573.3H669.3ZM664 608.7H710V611.3H664ZM663.3 590H666V593H663.3ZM602.7 608.3H640.7V610.7H602.7ZM694 610.7H697.3V680H694ZM630.7 608.7H634V686.7H630.7ZM582.7 608.7H586V698.7H582.7ZM584 510H587.3V540H584ZM549.3 524.7H584.7V527.3H549.3ZM547.3 510H550V558H547.3ZM547.3 555.3H587.3V558.4H547.3ZM684.7 678H694V680H684.7ZM630.7 678H644V680H630.7ZM622.7 672.7H630.7V675H622.7ZM584.7 672.7H592V675H584.7ZM630.7 680.7H638V686.7H630.7ZM577 670.7H582.7V673.3H577ZM521.3 670.7H528V673.3H521.3ZM577.3 696.3H584.7V698.7H577.3ZM334.7 550H402V553.3H334.7ZM425.3 550H521.3V553.3H425.3ZM334.7 550H338V662.7H334.7ZM334.7 662.7H346.7V698.7H334.7ZM518 550H521.3V662.7H518ZM509.3 662.7H521.3V698.7H509.3ZM338 624H351.3V628.7H338ZM368.7 601.3H372V681.3H368.7ZM368.7 669.3H377.3V681.3H368.7ZM372 669.5H379V671.5H372ZM421 669.5H427.3V671.5H421ZM430.7 662H436V664H430.7ZM466 662H479.3V664H466ZM504 662H509.3V664H504ZM479.3 663.3H486.7V681.3H479.3ZM427.3 601.3H442.7V604H427.3ZM459.3 601.3H478V604H459.3ZM427.3 601.3H430.7V681.3H427.3ZM424 669.3H430.7V681.3H424ZM470.7 601.3H473.3V662.7H470.7ZM436.7 553.3H439.3V582.7H436.7ZM436.7 580H459.3V582.7H436.7ZM475.3 580H518V582.7H475.3ZM457.3 553.3H460V566H457.3ZM476 553.3H478.7V566H476ZM496 553.3H498.7V582.7H496ZM342 336H345V482.7H342ZM380.7 336H384V506.7H380.7ZM362 396.7H364.7V450H362ZM346 449H364.7V450.6H346ZM362 396.2H380.7V397.6H362ZM344.7 468H360V470H344.7ZM344.7 480.8H360V482.7H344.7ZM358 468H360V482.7H358ZM426 408.7H429.3V510H426ZM469.3 386H472V510H469.3ZM426 408.7H472V413.3H426ZM426 450.7H472V454.7H426ZM426 492H472V496H426ZM426 506.7H472V510H426ZM491.3 406H494.7V446.7H491.3ZM493.3 465.3H512V467.3H493.3ZM493.3 481H512V483.3H493.3ZM493.3 465.3H495.3V483.3H493.3ZM146 506.9H344.7V510.7H146ZM510.7 506.9H704V510.7H510.7ZM145.3 505.3H168V517.4H145.3ZM329.3 506.7H344.7V524H329.3ZM510.7 506.7H526.7V524H510.7ZM674.7 506.7H704V518.7H674.7ZM145.3 670.7H161.3V686.7H145.3ZM145.3 686.7H154V692.7H145.3ZM694.7 670.7H710.7V686.7H694.7ZM702 686.7H710.7V692.7H702ZM795.3 687.8H798.3V700.8H795.3ZM783.6 720.2H849V723.1H783.6ZM784.3 720.5H787V767.8H784.3ZM846.3 720.5H849V767.8H846.3ZM784.3 765.1H815.6V767.8H784.3ZM833.6 765.1H849V767.8H833.6ZM744.3 748.5H747V789.1H744.3ZM744.3 748.5H785V751.1H744.3ZM744.3 786.5H790.3V789.1H744.3ZM788.3 767.8H791V770.8H788.3ZM813.6 786.1H851.6V788.5H813.6ZM757 788.5H760.3V857.8H757ZM820.3 786.5H823.6V864.5H820.3ZM868.3 786.5H871.6V876.5H868.3ZM867 687.8H870.3V717.8H867ZM869.6 702.5H905V705.1H869.6ZM904.3 687.8H907V735.8H904.3ZM867 733.1H907V736.2H867ZM760.3 855.8H769.6V857.8H760.3ZM810.3 855.8H823.6V857.8H810.3ZM823.6 850.5H831.6V852.8H823.6ZM862.3 850.5H869.6V852.8H862.3ZM816.3 858.5H823.6V864.5H816.3ZM871.6 848.5H877.3V851.1H871.6ZM926.3 848.5H933V851.1H926.3ZM869.6 874.1H877V876.5H869.6ZM1254.3 687.8H1257.3V700.8H1254.3ZM1203.6 720.2H1269V723.1H1203.6ZM1265.6 720.5H1268.3V767.8H1265.6ZM1203.6 720.5H1206.3V767.8H1203.6ZM1237 765.1H1268.3V767.8H1237ZM1203.6 765.1H1219V767.8H1203.6ZM1305.6 748.5H1308.3V789.1H1305.6ZM1267.6 748.5H1308.3V751.1H1267.6ZM1262.3 786.5H1308.3V789.1H1262.3ZM1261.6 767.8H1264.3V770.8H1261.6ZM1201 786.1H1239V788.5H1201ZM1292.3 788.5H1295.6V857.8H1292.3ZM1229 786.5H1232.3V864.5H1229ZM1181 786.5H1184.3V876.5H1181ZM1182.3 687.8H1185.6V717.8H1182.3ZM1147.6 702.5H1183V705.1H1147.6ZM1145.6 687.8H1148.3V735.8H1145.6ZM1145.6 733.1H1185.6V736.2H1145.6ZM1283 855.8H1292.3V857.8H1283ZM1229 855.8H1242.3V857.8H1229ZM1221 850.5H1229V852.8H1221ZM1183 850.5H1190.3V852.8H1183ZM1229 858.5H1236.3V864.5H1229ZM1175.3 848.5H1181V851.1H1175.3ZM1119.6 848.5H1126.3V851.1H1119.6ZM1175.6 874.1H1183V876.5H1175.6ZM795.3 673.6H798.3V686.6H795.3ZM783.6 651.3H852V654.2H783.6ZM784.3 606.6H787V653.9H784.3ZM849.3 606.6H852V653.9H849.3ZM784.3 606.6H818.6V609.3H784.3ZM836.6 606.6H852V609.3H836.6ZM744.3 585.3H747V625.9H744.3ZM744.3 623.3H785V625.9H744.3ZM744.3 585.3H793.3V587.9H744.3ZM788.3 603.6H791V606.6H788.3ZM816.6 585.9H858.3V588.3H816.6ZM757 521.4H760.3V585.9H757ZM825.7 521.4H829V587.9H825.7ZM875 508.3H878.3V587.9H875ZM868.5 656.6H871.8V686.6H868.5ZM871.1 669.3H906.5V671.9H871.1ZM905.8 638.6H908.5V686.6H905.8ZM868.5 638.2H908.5V641.3H868.5ZM897.3 671.6H899.6V686.6H897.3ZM760.3 521.4H769.6V523.4H760.3ZM815.7 521.4H829V523.4H815.7ZM829 521.1H837V523.4H829ZM869 521.1H876.3V523.4H869ZM878.3 527.9H884V530.5H878.3ZM926.3 527.9H933V530.5H926.3ZM876.3 508.3H883.7V510.7H876.3ZM883.7 508.3H941.1V510.9H883.7ZM1254.3 673.6H1257.3V686.6H1254.3ZM1200.6 651.3H1269V654.2H1200.6ZM1265.6 606.6H1268.3V653.9H1265.6ZM1200.6 606.6H1203.3V653.9H1200.6ZM1234 606.6H1268.3V609.3H1234ZM1200.6 606.6H1216V609.3H1200.6ZM1305.6 585.3H1308.3V625.9H1305.6ZM1267.6 623.3H1308.3V625.9H1267.6ZM1259.3 585.3H1308.3V587.9H1259.3ZM1261.6 603.6H1264.3V606.6H1261.6ZM1194.3 585.9H1236V588.3H1194.3ZM1292.3 521.4H1295.6V585.9H1292.3ZM1223.6 521.4H1226.9V587.9H1223.6ZM1174.3 508.3H1177.6V587.9H1174.3ZM1180.8 656.6H1184.1V686.6H1180.8ZM1146.1 669.3H1181.5V671.9H1146.1ZM1144.1 638.6H1146.8V686.6H1144.1ZM1144.1 638.2H1184.1V641.3H1144.1ZM1153 671.6H1155.3V686.6H1153ZM1283 521.4H1292.3V523.4H1283ZM1223.6 521.4H1236.9V523.4H1223.6ZM1215.6 521.1H1223.6V523.4H1215.6ZM1176.3 521.1H1183.6V523.4H1176.3ZM1168.6 527.9H1174.3V530.5H1168.6ZM1119.6 527.9H1126.3V530.5H1119.6ZM1168.9 508.3H1176.3V510.7H1168.9ZM1111.5 508.3H1168.9V510.9H1111.5ZM933 727.8H991.8V731.1H933ZM1015.3 727.8H1119.6V731.1H1015.3ZM933 727.8H936.3V840.5H933ZM933 840.5H945V876.5H933ZM1116.3 727.8H1119.6V840.5H1116.3ZM1107.6 840.5H1119.6V876.5H1107.6ZM936.3 801.8H949.6V806.5H936.3ZM967 779.1H970.3V859.1H967ZM967 847.1H975.6V859.1H967ZM970.3 847.3H977.3V849.3H970.3ZM1019.3 847.3H1025.6V849.3H1019.3ZM1029 839.8H1034.3V841.8H1029ZM1064.3 839.8H1077.6V841.8H1064.3ZM1102.3 839.8H1107.6V841.8H1102.3ZM1077.6 841.1H1085V859.1H1077.6ZM1025.6 779.1H1041V781.8H1025.6ZM1057.6 779.1H1076.3V781.8H1057.6ZM1025.6 779.1H1029V859.1H1025.6ZM1022.3 847.1H1029V859.1H1022.3ZM1069 779.1H1071.6V840.5H1069ZM1025.1 731.1H1028.2V760.8H1025.1ZM1060.2 731.1H1062.4V759.8H1060.2ZM1042.5 758.1H1080.6V760.8H1042.5ZM1078 731.1H1080.6V760.8H1078ZM940.3 530.7H943.3V660.5H940.3ZM979 514H982.3V684.5H979ZM1109.6 530.7H1113V661.1H1109.6ZM960.3 574.5H963V627.8H960.3ZM944.3 626.8H963V628.4H944.3ZM960.3 574H979V575.4H960.3ZM943 645.8H958.3V647.8H943ZM943 658.6H958.3V660.5H943ZM956.3 645.8H958.3V660.5H956.3ZM1024.3 586.5H1027.6V687.8H1024.3ZM1067.6 563.8H1070.3V687.8H1067.6ZM1024.3 586.5H1070.3V591.1H1024.3ZM1024.3 628.5H1070.3V632.5H1024.3ZM1024.3 669.8H1070.3V673.8H1024.3ZM1024.3 684.5H1070.3V687.8H1024.3ZM1089.6 583.8H1093V624.5H1089.6ZM1091.6 643.1H1110.3V645.1H1091.6ZM1091.6 658.8H1110.3V661.1H1091.6ZM1091.6 643.1H1093.6V661.1H1091.6ZM744.3 684.4H943V688.6H744.3ZM1109 684.4H1308.8V688.6H1109ZM744.3 679.7H759.7V695H744.3ZM1292.9 679.7H1308.3V695H1292.9ZM927.6 684.5H943V701.8H927.6ZM1109 684.5H1125V701.8H1109ZM744.3 514.3H760.3V531H744.3ZM1292.3 514.3H1308.3V531H1292.3ZM931 508H943V530.7H931ZM1109.6 508H1121.6V530.7H1109.6ZM820.3 517H829V523.7H820.3ZM1223.6 517H1232.3V523.7H1223.6ZM743.6 848.5H759.6V864.5H743.6ZM743.6 864.5H752.3V870.5H743.6ZM1293 848.5H1309V864.5H1293ZM1300.3 864.5H1309V870.5H1300.3Z" fill="#0d0d0d"/>
<rect x="226.8" y="373.5" width="1.4" height="5.5" rx="0.5" fill="#fff" stroke="#0d0d0d" stroke-width="0"/>
<rect x="280" y="373.5" width="1.4" height="5.5" rx="0.5" fill="#fff" stroke="#0d0d0d" stroke-width="0"/>
<path d="M338 686.7h6v8.6h-6z" fill="#fff"/><path d="M338 686.7l6 8.6m-6 0l6 -8.6" stroke="#0d0d0d" stroke-width="0.6" fill="none"/>
<path d="M512.3 686.7h6v8.6h-6z" fill="#fff"/><path d="M512.3 686.7l6 8.6m-6 0l6 -8.6" stroke="#0d0d0d" stroke-width="0.6" fill="none"/>
<rect x="372.3" y="673" width="1.3" height="6" rx="0.5" fill="#fff" stroke="#0d0d0d" stroke-width="0"/>
<rect x="426.2" y="673" width="1.3" height="6" rx="0.5" fill="#fff" stroke="#0d0d0d" stroke-width="0"/>
<rect x="482.3" y="673" width="1.3" height="6" rx="0.5" fill="#fff" stroke="#0d0d0d" stroke-width="0"/>
<path d="M936.3 864.5h6v8.6h-6z" fill="#fff"/><path d="M936.3 864.5l6 8.6m-6 0l6 -8.6" stroke="#0d0d0d" stroke-width="0.6" fill="none"/>
<path d="M1110.6 864.5h6v8.6h-6z" fill="#fff"/><path d="M1110.6 864.5l6 8.6m-6 0l6 -8.6" stroke="#0d0d0d" stroke-width="0.6" fill="none"/>
<rect x="970.6" y="850.8" width="1.3" height="6" rx="0.5" fill="#fff" stroke="#0d0d0d" stroke-width="0"/>
<rect x="1024.5" y="850.8" width="1.3" height="6" rx="0.5" fill="#fff" stroke="#0d0d0d" stroke-width="0"/>
<rect x="1080.6" y="850.8" width="1.3" height="6" rx="0.5" fill="#fff" stroke="#0d0d0d" stroke-width="0"/>
<text x="186" y="413.7" class="rl">臥室</text>
<text x="252.7" y="413.7" class="rl">臥室</text>
<text x="310.7" y="413.7" class="rl">客廳</text>
<text x="304.7" y="463.1" class="rl">餐廳</text>
<text x="284" y="487.7" class="rl">廚房</text>
<text x="232.7" y="488.4" class="rl">陽台</text>
<text x="314.7" y="436.9" class="ul">B1</text>
<text x="532.7" y="351.4" class="rl">陽台</text>
<text x="533.8" y="405.4" class="rl">廚房</text>
<text x="576.7" y="387.4" class="rl">臥室</text>
<text x="641.3" y="379.4" class="rl">主臥室</text>
<text x="644" y="421.4" class="rl">臥室</text>
<text x="594" y="461.7" class="rl">餐廳</text>
<text x="637.3" y="479.7" class="rl">客廳</text>
<text x="684.9" y="478.8" class="rl">陽台</text>
<text x="619.3" y="479.9" class="ul">B6</text>
<text x="171.5" y="538.9" class="rl">陽台</text>
<text x="227.5" y="539.2" class="rl">廚房</text>
<text x="210.5" y="578.4" class="rl">臥室</text>
<text x="283.3" y="591.7" class="rl">餐廳</text>
<text x="190" y="641.7" class="rl">主臥室</text>
<text x="244.7" y="639.1" class="rl">臥室</text>
<text x="294.7" y="635.7" class="rl">客廳</text>
<text x="299.3" y="687.6" class="rl">陽台</text>
<text x="304.7" y="620.6" class="ul">B2</text>
<text x="678" y="538.4" class="rl">陽台</text>
<text x="615.3" y="538.4" class="rl">廚房</text>
<text x="624.7" y="557.7" class="rl">臥室</text>
<text x="563.3" y="590.4" class="rl">餐廳</text>
<text x="651.3" y="638.4" class="rl">主臥室</text>
<text x="600.7" y="638.4" class="rl">臥室</text>
<text x="546" y="635.1" class="rl">客廳</text>
<text x="546.7" y="685.7" class="rl">陽台</text>
<text x="553" y="619.9" class="ul">B5</text>
<text x="379.3" y="590.4" class="rl">餐廳</text>
<text x="358.5" y="609.7" class="rl">廚房</text>
<text x="398.7" y="637.7" class="rl">客廳</text>
<text x="348" y="643.1" class="rl">陽台</text>
<text x="442.7" y="629.7" class="rl">臥室</text>
<text x="487.3" y="629.1" class="rl">臥室</text>
<text x="400" y="620.3" class="ul">B3</text>
<text x="405.3" y="456.4" class="rl">排煙室</text>
<text x="360.9" y="519.9" class="fbf">f</text>
<text x="387.3" y="517.9" class="fbt">夢享家</text>
<text x="422.2" y="535" class="cl">B</text>
<text x="437.7" y="535" class="rl">梯廳</text>
<text x="774.8" y="697.9" class="rl">陽台</text>
<text x="825.8" y="717" class="rl">廚房</text>
<text x="820.8" y="736.9" class="rl">臥室</text>
<text x="891.2" y="769.5" class="rl">餐廳</text>
<text x="795.8" y="820.8" class="rl">主臥室</text>
<text x="851.7" y="818.4" class="rl">臥室</text>
<text x="901.9" y="814.4" class="rl">客廳</text>
<text x="906.2" y="865.2" class="rl">陽台</text>
<text x="903" y="798.4" class="ul">A2</text>
<text x="1274.5" y="698.4" class="rl">陽台</text>
<text x="1203.2" y="716" class="rl">廚房</text>
<text x="1224.6" y="739" class="rl">臥室</text>
<text x="1163.5" y="769.9" class="rl">餐廳</text>
<text x="1251.7" y="820.4" class="rl">主臥室</text>
<text x="1201" y="818.7" class="rl">臥室</text>
<text x="1146" y="814.9" class="rl">客廳</text>
<text x="1147.5" y="865.4" class="rl">陽台</text>
<text x="1156.2" y="797.3" class="ul">A5</text>
<text x="781.2" y="677.7" class="rl">陽台</text>
<text x="825" y="667.1" class="rl">廚房</text>
<text x="826" y="634" class="rl">臥室</text>
<text x="894.3" y="609.1" class="rl">餐廳</text>
<text x="798.3" y="559.4" class="rl">主臥室</text>
<text x="859" y="558.7" class="rl">臥室</text>
<text x="913.7" y="570.1" class="rl">客廳</text>
<text x="907.7" y="525.4" class="rl">陽台</text>
<text x="906.3" y="600.5" class="ul">A1</text>
<text x="1275.2" y="675" class="rl">陽台</text>
<text x="1203.6" y="662.2" class="rl">廚房</text>
<text x="1225" y="633.8" class="rl">臥室</text>
<text x="1161.4" y="607.1" class="rl">餐廳</text>
<text x="1252.3" y="555.8" class="rl">主臥室</text>
<text x="1197.2" y="555.8" class="rl">臥室</text>
<text x="1144.5" y="567.1" class="rl">客廳</text>
<text x="1143.4" y="522.3" class="rl">陽台</text>
<text x="1144.9" y="600" class="ul">A6</text>
<text x="977.6" y="768.2" class="rl">餐廳</text>
<text x="956.8" y="787.5" class="rl">廚房</text>
<text x="997" y="815.5" class="rl">客廳</text>
<text x="946.3" y="820.9" class="rl">陽台</text>
<text x="1041" y="807.5" class="rl">臥室</text>
<text x="1085.6" y="806.9" class="rl">臥室</text>
<text x="998.3" y="798.1" class="ul">A3</text>
<text x="1003.6" y="634.2" class="rl">排煙室</text>
<text x="956" y="700" class="fbf">f</text>
<text x="982.4" y="698" class="fbt">夢享家</text>
<text x="1024.5" y="711.8" class="cl">A</text>
<text x="1045.2" y="711.4" class="rl">梯廳</text>
</svg>
</body></html>
